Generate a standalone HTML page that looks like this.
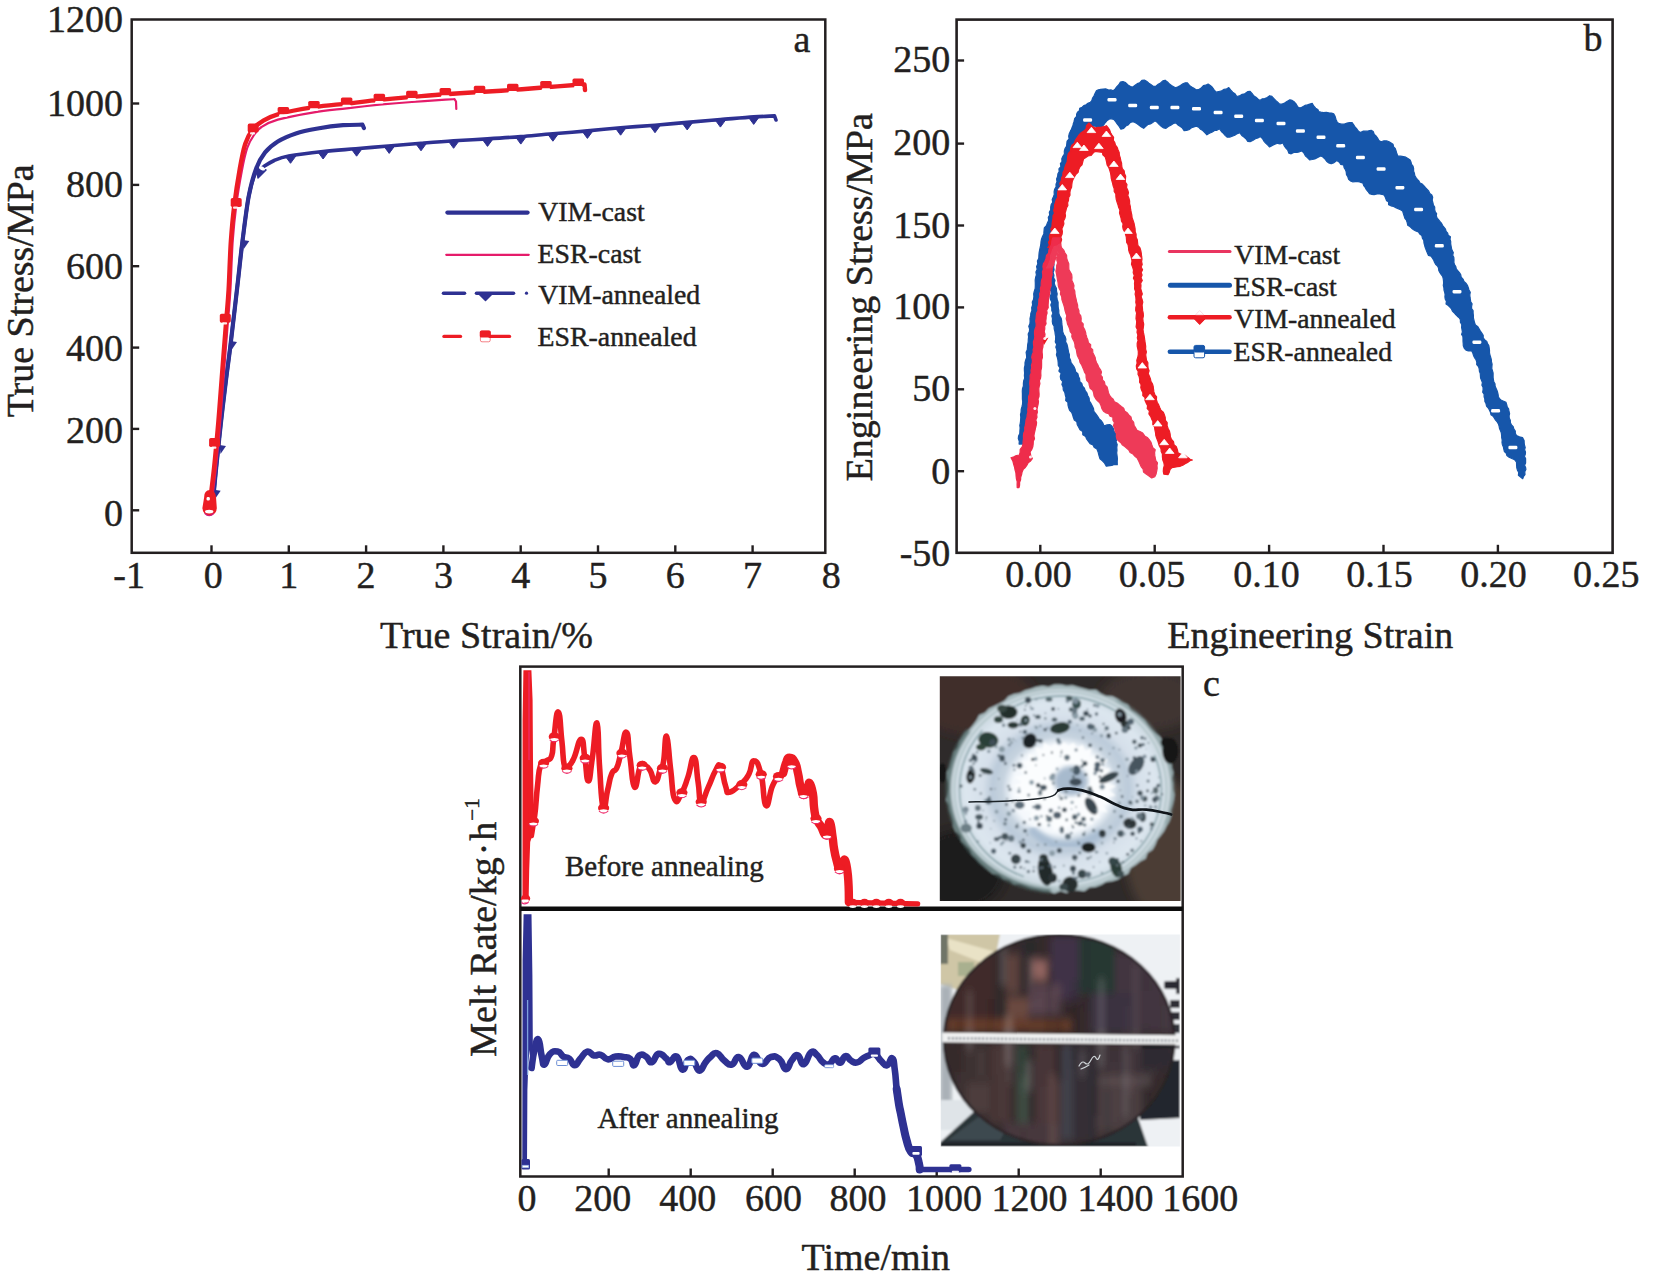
<!DOCTYPE html>
<html><head><meta charset="utf-8"><title>Figure</title>
<style>
html,body{margin:0;padding:0;background:#fff}
svg{display:block}
text{font-family:"Liberation Serif","Times New Roman",serif;fill:#231f20;stroke:#231f20;stroke-width:0.45px}
</style></head><body>
<svg width="1656" height="1278" viewBox="0 0 1656 1278">
<rect width="1656" height="1278" fill="#fff"/>
<rect x="131.7" y="19.5" width="693.5999999999999" height="533.3" fill="none" stroke="#231f20" stroke-width="2.5"/>
<text x="123.0" y="32.4" font-size="38" text-anchor="end" >1200</text>
<line x1="131.7" y1="103.5" x2="139.2" y2="103.5" stroke="#231f20" stroke-width="2.4" />
<text x="123.0" y="115.5" font-size="38" text-anchor="end" >1000</text>
<line x1="131.7" y1="184.9" x2="139.2" y2="184.9" stroke="#231f20" stroke-width="2.4" />
<text x="123.0" y="197.2" font-size="38" text-anchor="end" >800</text>
<line x1="131.7" y1="266.2" x2="139.2" y2="266.2" stroke="#231f20" stroke-width="2.4" />
<text x="123.0" y="279.0" font-size="38" text-anchor="end" >600</text>
<line x1="131.7" y1="347.6" x2="139.2" y2="347.6" stroke="#231f20" stroke-width="2.4" />
<text x="123.0" y="360.5" font-size="38" text-anchor="end" >400</text>
<line x1="131.7" y1="428.9" x2="139.2" y2="428.9" stroke="#231f20" stroke-width="2.4" />
<text x="123.0" y="443.1" font-size="38" text-anchor="end" >200</text>
<line x1="131.7" y1="510.3" x2="139.2" y2="510.3" stroke="#231f20" stroke-width="2.4" />
<text x="123.0" y="525.5" font-size="38" text-anchor="end" >0</text>
<line x1="211.5" y1="552.8" x2="211.5" y2="545.3" stroke="#231f20" stroke-width="2.4" />
<line x1="288.8" y1="552.8" x2="288.8" y2="545.3" stroke="#231f20" stroke-width="2.4" />
<line x1="366.1" y1="552.8" x2="366.1" y2="545.3" stroke="#231f20" stroke-width="2.4" />
<line x1="443.4" y1="552.8" x2="443.4" y2="545.3" stroke="#231f20" stroke-width="2.4" />
<line x1="520.7" y1="552.8" x2="520.7" y2="545.3" stroke="#231f20" stroke-width="2.4" />
<line x1="598.0" y1="552.8" x2="598.0" y2="545.3" stroke="#231f20" stroke-width="2.4" />
<line x1="675.3" y1="552.8" x2="675.3" y2="545.3" stroke="#231f20" stroke-width="2.4" />
<line x1="752.6" y1="552.8" x2="752.6" y2="545.3" stroke="#231f20" stroke-width="2.4" />
<text x="145.0" y="587.8" font-size="38" text-anchor="end" >-1</text>
<text x="213.3" y="587.8" font-size="38" text-anchor="middle" >0</text>
<text x="288.8" y="587.8" font-size="38" text-anchor="middle" >1</text>
<text x="366.1" y="587.8" font-size="38" text-anchor="middle" >2</text>
<text x="443.4" y="587.8" font-size="38" text-anchor="middle" >3</text>
<text x="520.7" y="587.8" font-size="38" text-anchor="middle" >4</text>
<text x="598.0" y="587.8" font-size="38" text-anchor="middle" >5</text>
<text x="675.3" y="587.8" font-size="38" text-anchor="middle" >6</text>
<text x="752.6" y="587.8" font-size="38" text-anchor="middle" >7</text>
<text x="831.3" y="587.8" font-size="38" text-anchor="middle" >8</text>
<text x="486.5" y="647.5" font-size="38" text-anchor="middle" >True Strain/%</text>
<text transform="translate(32.9,290.8) rotate(-90)" font-size="38" text-anchor="middle">True Stress/MPa</text>
<text x="793.5" y="52.0" font-size="38" text-anchor="start" >a</text>
<rect x="956.6" y="19.6" width="655.9999999999999" height="533.1999999999999" fill="none" stroke="#231f20" stroke-width="2.6"/>
<line x1="956.6" y1="60.5" x2="964.1" y2="60.5" stroke="#231f20" stroke-width="2.4" />
<text x="950.3" y="71.7" font-size="38" text-anchor="end" >250</text>
<line x1="956.6" y1="143.6" x2="964.1" y2="143.6" stroke="#231f20" stroke-width="2.4" />
<text x="950.3" y="154.9" font-size="38" text-anchor="end" >200</text>
<line x1="956.6" y1="225.5" x2="964.1" y2="225.5" stroke="#231f20" stroke-width="2.4" />
<text x="950.3" y="237.5" font-size="38" text-anchor="end" >150</text>
<line x1="956.6" y1="307.4" x2="964.1" y2="307.4" stroke="#231f20" stroke-width="2.4" />
<text x="950.3" y="319.4" font-size="38" text-anchor="end" >100</text>
<line x1="956.6" y1="389.3" x2="964.1" y2="389.3" stroke="#231f20" stroke-width="2.4" />
<text x="950.3" y="401.3" font-size="38" text-anchor="end" >50</text>
<line x1="956.6" y1="471.2" x2="964.1" y2="471.2" stroke="#231f20" stroke-width="2.4" />
<text x="950.3" y="483.8" font-size="38" text-anchor="end" >0</text>
<text x="950.3" y="565.6" font-size="38" text-anchor="end" >-50</text>
<line x1="1040.3" y1="552.8" x2="1040.3" y2="544.8" stroke="#231f20" stroke-width="2.4" />
<line x1="1154.7" y1="552.8" x2="1154.7" y2="544.8" stroke="#231f20" stroke-width="2.4" />
<line x1="1269.1" y1="552.8" x2="1269.1" y2="544.8" stroke="#231f20" stroke-width="2.4" />
<line x1="1383.5" y1="552.8" x2="1383.5" y2="544.8" stroke="#231f20" stroke-width="2.4" />
<line x1="1497.9" y1="552.8" x2="1497.9" y2="544.8" stroke="#231f20" stroke-width="2.4" />
<text x="1038.4" y="586.5" font-size="38" text-anchor="middle" >0.00</text>
<text x="1152.0" y="586.5" font-size="38" text-anchor="middle" >0.05</text>
<text x="1266.6" y="586.5" font-size="38" text-anchor="middle" >0.10</text>
<text x="1379.5" y="586.5" font-size="38" text-anchor="middle" >0.15</text>
<text x="1493.4" y="586.5" font-size="38" text-anchor="middle" >0.20</text>
<text x="1606.2" y="586.5" font-size="38" text-anchor="middle" >0.25</text>
<text x="1310.3" y="648.3" font-size="38" text-anchor="middle" >Engineering Strain</text>
<text transform="translate(871.7,297.2) rotate(-90)" font-size="38" text-anchor="middle">Engineering Stress/MPa</text>
<text x="1583.5" y="51.0" font-size="38" text-anchor="start" >b</text>
<rect x="520.3" y="666.6" width="662.4000000000001" height="509.9" fill="none" stroke="#231f20" stroke-width="2.5"/>
<line x1="520.3" y1="908.8" x2="1182.7" y2="908.8" stroke="#0d0d0d" stroke-width="4.6" />
<line x1="608.7" y1="1176.5" x2="608.7" y2="1168.5" stroke="#231f20" stroke-width="2.4" />
<line x1="690.7" y1="1176.5" x2="690.7" y2="1168.5" stroke="#231f20" stroke-width="2.4" />
<line x1="772.7" y1="1176.5" x2="772.7" y2="1168.5" stroke="#231f20" stroke-width="2.4" />
<line x1="854.7" y1="1176.5" x2="854.7" y2="1168.5" stroke="#231f20" stroke-width="2.4" />
<line x1="936.7" y1="1176.5" x2="936.7" y2="1168.5" stroke="#231f20" stroke-width="2.4" />
<line x1="1018.7" y1="1176.5" x2="1018.7" y2="1168.5" stroke="#231f20" stroke-width="2.4" />
<line x1="1100.7" y1="1176.5" x2="1100.7" y2="1168.5" stroke="#231f20" stroke-width="2.4" />
<text x="527.0" y="1210.5" font-size="38" text-anchor="middle" >0</text>
<text x="602.8" y="1210.5" font-size="38" text-anchor="middle" >200</text>
<text x="687.7" y="1210.5" font-size="38" text-anchor="middle" >400</text>
<text x="773.5" y="1210.5" font-size="38" text-anchor="middle" >600</text>
<text x="858.0" y="1210.5" font-size="38" text-anchor="middle" >800</text>
<text x="944.0" y="1210.5" font-size="38" text-anchor="middle" >1000</text>
<text x="1029.6" y="1210.5" font-size="38" text-anchor="middle" >1200</text>
<text x="1115.6" y="1210.5" font-size="38" text-anchor="middle" >1400</text>
<text x="1200.3" y="1210.5" font-size="38" text-anchor="middle" >1600</text>
<text x="875.8" y="1270.0" font-size="38" text-anchor="middle" >Time/min</text>
<text transform="translate(495.7,1056.8) rotate(-90)" font-size="38">Melt Rate/kg<tspan dx="2">·</tspan><tspan dx="2">h</tspan><tspan font-size="21" dy="-16.4" dx="1">−1</tspan></text>
<text x="1203.0" y="696.0" font-size="38" text-anchor="start" >c</text>
<text x="564.9" y="875.6" font-size="29" text-anchor="start" >Before annealing</text>
<text x="597.4" y="1128.0" font-size="29" text-anchor="start" >After annealing</text>
<path d="M211.0,512.0 C211.3,510.0 212.1,507.4 213.0,500.0 C213.9,492.6 214.9,480.3 216.2,467.6 C217.5,454.9 219.2,438.4 220.8,423.8 C222.4,409.2 224.4,393.1 226.0,380.0 C227.6,366.9 228.6,360.8 230.5,345.0 C232.4,329.2 235.5,302.3 237.5,285.0 C239.5,267.7 240.6,255.8 242.5,241.0 C244.4,226.2 246.5,208.0 248.8,195.9 C251.1,183.8 253.4,175.9 256.1,168.7 C258.8,161.4 261.5,156.9 265.1,152.4 C268.7,147.9 272.7,144.7 277.8,141.5 C282.9,138.3 289.2,135.6 295.9,133.4 C302.5,131.2 309.8,129.9 317.7,128.5 C325.6,127.1 335.5,125.8 343.0,125.2 C350.5,124.6 359.2,124.8 362.5,124.7 L363.9,128" fill="none" stroke="#2e3192" stroke-width="4.2" stroke-linecap="round" stroke-linejoin="round" />
<path d="M211.0,512.0 C211.3,510.0 212.1,507.4 213.0,500.0 C213.9,492.6 214.9,480.3 216.2,467.6 C217.5,454.9 219.2,438.4 220.8,423.8 C222.4,409.2 224.4,393.1 226.0,380.0 C227.6,366.9 228.6,360.8 230.5,345.0 C232.4,329.2 235.5,302.3 237.5,285.0 C239.5,267.7 240.6,255.8 242.5,241.0 C244.4,226.2 246.6,207.4 248.8,195.9 C251.1,184.4 253.6,176.8 256.0,172.0 C258.4,167.2 260.3,168.8 263.3,166.9 C266.3,165.0 270.0,162.3 274.2,160.5 C278.4,158.7 280.5,157.5 288.7,156.0 C296.9,154.5 311.9,152.7 323.1,151.5 C334.3,150.3 344.8,149.7 355.7,148.8 C366.6,147.9 377.4,146.9 388.3,146.0 C399.2,145.1 410.1,144.2 421.0,143.3 C431.9,142.4 442.5,141.5 453.6,140.8 C464.7,140.1 476.3,139.6 487.5,138.9 C498.7,138.2 509.9,137.5 520.8,136.6 C531.7,135.7 541.8,134.6 552.9,133.7 C564.0,132.8 576.1,131.9 587.4,130.9 C598.7,129.9 609.3,128.7 620.6,127.7 C631.9,126.8 643.9,126.1 655.0,125.2 C666.1,124.3 676.3,123.3 687.2,122.4 C698.1,121.5 709.3,120.5 720.4,119.6 C731.5,118.7 744.7,117.5 753.7,116.9 C762.7,116.3 771.0,116.1 774.5,115.9 L776,120" fill="none" stroke="#2e3192" stroke-width="3.6" stroke-linecap="round" stroke-linejoin="round" />
<polygon points="285.0,155.8 296.0,155.8 290.5,163.3" fill="#2e3192" stroke="#2e3192" stroke-width="1" stroke-linejoin="round"/>
<polygon points="317.6,151.5 328.6,151.5 323.1,159.0" fill="#2e3192" stroke="#2e3192" stroke-width="1" stroke-linejoin="round"/>
<polygon points="351.1,148.7 362.1,148.7 356.6,156.2" fill="#2e3192" stroke="#2e3192" stroke-width="1" stroke-linejoin="round"/>
<polygon points="383.7,145.9 394.7,145.9 389.2,153.4" fill="#2e3192" stroke="#2e3192" stroke-width="1" stroke-linejoin="round"/>
<polygon points="415.5,143.3 426.5,143.3 421.0,150.8" fill="#2e3192" stroke="#2e3192" stroke-width="1" stroke-linejoin="round"/>
<polygon points="448.1,140.8 459.1,140.8 453.6,148.3" fill="#2e3192" stroke="#2e3192" stroke-width="1" stroke-linejoin="round"/>
<polygon points="482.0,138.9 493.0,138.9 487.5,146.4" fill="#2e3192" stroke="#2e3192" stroke-width="1" stroke-linejoin="round"/>
<polygon points="515.3,136.6 526.3,136.6 520.8,144.1" fill="#2e3192" stroke="#2e3192" stroke-width="1" stroke-linejoin="round"/>
<polygon points="547.4,133.7 558.4,133.7 552.9,141.2" fill="#2e3192" stroke="#2e3192" stroke-width="1" stroke-linejoin="round"/>
<polygon points="581.9,130.9 592.9,130.9 587.4,138.4" fill="#2e3192" stroke="#2e3192" stroke-width="1" stroke-linejoin="round"/>
<polygon points="615.1,127.7 626.1,127.7 620.6,135.2" fill="#2e3192" stroke="#2e3192" stroke-width="1" stroke-linejoin="round"/>
<polygon points="649.5,125.2 660.5,125.2 655.0,132.7" fill="#2e3192" stroke="#2e3192" stroke-width="1" stroke-linejoin="round"/>
<polygon points="681.7,122.4 692.7,122.4 687.2,129.9" fill="#2e3192" stroke="#2e3192" stroke-width="1" stroke-linejoin="round"/>
<polygon points="714.9,119.6 725.9,119.6 720.4,127.1" fill="#2e3192" stroke="#2e3192" stroke-width="1" stroke-linejoin="round"/>
<polygon points="748.2,116.9 759.2,116.9 753.7,124.4" fill="#2e3192" stroke="#2e3192" stroke-width="1" stroke-linejoin="round"/>
<polygon points="230.5,341.0 237.0,342.0 231.5,350.0" fill="#2e3192"/>
<polygon points="219.5,445.0 226.0,446.0 220.5,454.0" fill="#2e3192"/>
<polygon points="214.2,489.7 220.7,490.7 215.2,498.7" fill="#2e3192"/>
<polygon points="242.8,239.9 249.3,240.9 243.8,248.9" fill="#2e3192"/>
<polygon points="256.5,168 266,170 258,178" fill="#2e3192" stroke="#2e3192" stroke-width="1.5" stroke-linejoin="round"/>
<ellipse cx="262" cy="168.3" rx="3.2" ry="1.8" fill="#fff" transform="rotate(25 262 168.3)"/>
<path d="M211.0,508.0 C211.8,501.3 214.4,481.6 215.9,467.6 C217.4,453.6 218.8,438.4 220.0,423.8 C221.2,409.2 222.1,397.2 223.4,380.0 C224.7,362.8 226.8,335.7 228.0,320.7 C229.2,305.7 229.6,303.3 230.4,290.0 C231.2,276.7 231.7,255.2 232.7,241.0 C233.7,226.8 234.8,216.7 236.3,205.0 C237.8,193.3 240.0,180.5 241.8,171.0 C243.6,161.5 245.2,154.0 247.2,148.0 C249.2,142.0 251.6,138.5 254.0,135.0 C256.4,131.5 257.5,129.6 261.5,127.0 C265.5,124.4 269.1,122.0 277.8,119.6 C286.6,117.1 302.5,114.2 314.0,112.3 C325.5,110.4 335.8,109.6 346.7,108.3 C357.6,107.0 368.4,105.8 379.3,104.7 C390.2,103.7 400.9,102.8 411.9,102.0 C422.9,101.2 438.3,100.1 445.4,99.6 C452.5,99.1 453.0,99.3 454.5,99.2 L456,101.5 L456.3,109" fill="none" stroke="#e51b6a" stroke-width="2.2" stroke-linecap="round" stroke-linejoin="round" />
<path d="M209.3,508.0 C210.1,501.3 212.6,481.6 214.1,467.6 C215.6,453.6 216.9,438.4 218.2,423.8 C219.4,409.2 220.3,397.2 221.6,380.0 C222.9,362.8 225.0,335.7 226.2,320.7 C227.4,305.7 227.8,303.3 228.6,290.0 C229.4,276.7 229.9,255.2 230.9,241.0 C231.9,226.8 232.8,217.1 234.3,205.0 C235.8,192.9 238.0,178.9 239.8,168.7 C241.6,158.5 243.1,150.5 245.2,144.0 C247.3,137.5 249.8,133.2 252.5,129.5 C255.2,125.8 257.3,124.3 261.5,121.8 C265.7,119.3 269.1,116.7 277.8,114.3 C286.6,111.9 302.5,109.0 314.0,107.2 C325.5,105.4 335.8,104.8 346.7,103.6 C357.6,102.4 368.4,101.0 379.3,99.9 C390.2,98.8 400.9,97.9 411.9,96.9 C422.9,96.0 434.1,95.0 445.4,94.2 C456.7,93.4 468.3,92.7 479.5,92.0 C490.7,91.3 501.7,90.7 512.8,89.9 C523.9,89.1 535.1,88.1 546.0,87.2 C556.9,86.3 571.8,85.3 578.2,84.8 C584.6,84.3 583.5,84.5 584.5,84.4 L585,90" fill="none" stroke="#ed1c24" stroke-width="4.4" stroke-linecap="round" stroke-linejoin="round" />
<rect x="277.6" y="107.1" width="11.5" height="5.6" rx="1.6" fill="#ed1c24"/>
<rect x="279.1" y="114.3" width="8.5" height="2.4" rx="1.2" fill="#fff"/>
<rect x="308.2" y="101.0" width="11.5" height="5.6" rx="1.6" fill="#ed1c24"/>
<rect x="309.8" y="108.3" width="8.5" height="2.4" rx="1.2" fill="#fff"/>
<rect x="340.9" y="97.4" width="11.5" height="5.6" rx="1.6" fill="#ed1c24"/>
<rect x="342.4" y="104.7" width="8.5" height="2.4" rx="1.2" fill="#fff"/>
<rect x="373.6" y="93.8" width="11.5" height="5.6" rx="1.6" fill="#ed1c24"/>
<rect x="375.1" y="101.0" width="8.5" height="2.4" rx="1.2" fill="#fff"/>
<rect x="406.1" y="90.8" width="11.5" height="5.6" rx="1.6" fill="#ed1c24"/>
<rect x="407.6" y="98.0" width="8.5" height="2.4" rx="1.2" fill="#fff"/>
<rect x="439.6" y="88.0" width="11.5" height="5.6" rx="1.6" fill="#ed1c24"/>
<rect x="441.1" y="95.3" width="8.5" height="2.4" rx="1.2" fill="#fff"/>
<rect x="473.8" y="85.8" width="11.5" height="5.6" rx="1.6" fill="#ed1c24"/>
<rect x="475.2" y="93.1" width="8.5" height="2.4" rx="1.2" fill="#fff"/>
<rect x="507.0" y="83.8" width="11.5" height="5.6" rx="1.6" fill="#ed1c24"/>
<rect x="508.5" y="91.0" width="8.5" height="2.4" rx="1.2" fill="#fff"/>
<rect x="540.2" y="81.0" width="11.5" height="5.6" rx="1.6" fill="#ed1c24"/>
<rect x="541.8" y="88.3" width="8.5" height="2.4" rx="1.2" fill="#fff"/>
<rect x="572.5" y="78.6" width="11.5" height="5.6" rx="1.6" fill="#ed1c24"/>
<rect x="574.0" y="85.9" width="8.5" height="2.4" rx="1.2" fill="#fff"/>
<rect x="219.8" y="313.7" width="11" height="9" rx="1.8" fill="#ed1c24"/>
<rect x="222.1" y="322.3" width="5" height="2.2" rx="1" fill="#fff" opacity="0.9"/>
<rect x="209.1" y="438.0" width="11" height="9" rx="1.8" fill="#ed1c24"/>
<rect x="211.4" y="446.6" width="5" height="2.2" rx="1" fill="#fff" opacity="0.9"/>
<rect x="230.7" y="198.0" width="11" height="9" rx="1.8" fill="#ed1c24"/>
<rect x="233.0" y="206.6" width="5" height="2.2" rx="1" fill="#fff" opacity="0.9"/>
<rect x="247.7" y="123.6" width="11" height="9" rx="1.8" fill="#ed1c24"/>
<rect x="250.0" y="132.2" width="5" height="2.2" rx="1" fill="#fff" opacity="0.9"/>
<path d="M204.2,497 Q204,490.5 209.8,490 Q215.6,490.5 216,497 L216.8,508 Q216.6,514.8 209.6,515.8 Q202.8,514.8 202.4,508 Z" fill="#ed1c24"/>
<rect x="206.6" y="497" width="3.2" height="3.4" rx="1.2" fill="#fff"/>
<ellipse cx="209.2" cy="511.6" rx="4.2" ry="1.9" fill="#fff"/>
<path d="M204.6,513.2 Q209.2,518 213.8,513.2" fill="none" stroke="#d21d7a" stroke-width="1.3"/>
<line x1="447.4" y1="212.6" x2="527.6" y2="212.6" stroke="#2e3192" stroke-width="4.2" stroke-linecap="round"/>
<line x1="446.3" y1="254.8" x2="528.7" y2="254.8" stroke="#e51b6a" stroke-width="2.3" stroke-linecap="round"/>
<line x1="443.5" y1="293.2" x2="464.5" y2="293.2" stroke="#2e3192" stroke-width="3.6" stroke-linecap="round"/>
<line x1="476.5" y1="293.2" x2="513.5" y2="293.2" stroke="#2e3192" stroke-width="3.6" stroke-linecap="round"/>
<circle cx="526.5" cy="293.2" r="1.6" fill="#2e3192"/>
<polygon points="478.5,293.5 492.5,293.5 485.5,300.5" fill="#2e3192" stroke="#2e3192" stroke-width="1.5" stroke-linejoin="round"/>
<line x1="444.0" y1="336.4" x2="460.5" y2="336.4" stroke="#ed1c24" stroke-width="3.4" stroke-linecap="round"/>
<line x1="490.0" y1="336.4" x2="509.5" y2="336.4" stroke="#ed1c24" stroke-width="3.4" stroke-linecap="round"/>
<rect x="479.8" y="330.4" width="11" height="7.2" rx="1.6" fill="#ed1c24"/>
<rect x="480.4" y="331" width="9.8" height="10.8" rx="1.6" fill="none" stroke="#ed1c24" stroke-width="1" opacity="0.55"/>
<text x="538.2" y="220.8" font-size="27.8" text-anchor="start" >VIM-cast</text>
<text x="537.6" y="263.3" font-size="27.8" text-anchor="start" >ESR-cast</text>
<text x="538.2" y="304.1" font-size="27.8" text-anchor="start" >VIM-annealed</text>
<text x="537.6" y="345.8" font-size="27.8" text-anchor="start" >ESR-annealed</text>
<polygon points="1019.1,444.1 1019.3,441.4 1018.3,438.6 1018.6,435.9 1019.8,433.4 1019.9,430.7 1020.1,428.0 1019.8,425.3 1020.4,422.7 1020.6,420.0 1020.8,417.3 1020.5,414.7 1021.1,412.1 1021.2,409.5 1021.9,406.9 1022.5,404.3 1022.7,401.7 1022.4,399.1 1022.4,396.5 1022.4,393.8 1022.3,391.2 1022.5,388.6 1023.4,386.0 1023.4,383.4 1023.7,380.8 1024.7,378.3 1024.4,375.6 1024.6,373.0 1024.4,370.4 1024.4,367.8 1025.0,365.2 1025.0,362.6 1025.7,360.0 1026.7,357.5 1026.5,354.9 1026.1,352.2 1027.3,349.7 1027.5,347.1 1027.7,344.5 1028.2,341.9 1028.3,339.3 1028.6,336.8 1028.2,334.1 1029.4,331.6 1029.6,329.0 1028.8,326.3 1029.9,323.8 1030.1,321.2 1030.0,318.6 1030.6,315.9 1030.9,313.1 1031.9,310.5 1031.7,307.6 1032.6,305.0 1032.3,302.1 1033.5,299.5 1033.9,296.7 1033.7,293.9 1034.3,291.2 1035.2,288.5 1035.3,285.7 1035.3,283.0 1035.2,280.2 1035.6,277.5 1036.4,274.8 1035.9,272.0 1037.2,269.3 1036.6,266.5 1037.8,263.9 1037.4,261.0 1038.8,258.4 1038.9,255.6 1039.1,252.9 1039.6,250.1 1040.2,247.4 1040.8,244.7 1041.0,241.9 1041.5,239.1 1042.5,236.5 1043.8,233.9 1044.0,231.1 1044.3,228.0 1046.4,225.7 1047.4,222.9 1048.7,220.2 1048.3,217.4 1049.7,215.0 1049.3,212.2 1050.7,209.8 1050.7,207.2 1051.2,204.6 1052.7,202.2 1052.2,199.4 1053.3,197.0 1054.3,194.6 1054.1,191.8 1054.6,189.3 1056.1,186.9 1056.0,184.2 1057.0,181.7 1056.6,179.0 1057.6,176.5 1057.9,173.9 1059.2,171.5 1058.9,168.8 1060.9,166.6 1060.4,163.7 1062.0,161.5 1061.8,158.7 1062.9,156.3 1064.4,154.0 1064.3,151.2 1065.0,148.7 1066.5,146.4 1066.8,143.8 1067.1,141.1 1069.1,139.0 1068.7,136.2 1069.3,133.6 1070.5,131.2 1071.9,128.8 1073.1,126.4 1073.3,123.5 1074.7,121.1 1075.3,118.4 1076.9,116.1 1078.4,113.7 1079.4,111.2 1080.6,108.7 1092.2,128.2 1090.2,129.9 1088.7,132.1 1087.4,134.4 1085.9,136.5 1085.0,139.0 1083.6,141.2 1082.5,143.6 1080.4,145.4 1079.5,147.8 1078.2,150.1 1077.2,152.7 1076.1,155.3 1075.3,158.0 1074.6,160.7 1074.7,163.7 1073.0,166.1 1071.9,168.7 1071.7,171.4 1070.9,173.9 1071.4,176.7 1070.8,179.2 1070.2,181.8 1069.3,184.3 1068.2,186.7 1068.0,189.4 1067.6,191.9 1066.8,194.4 1066.7,197.1 1065.4,199.5 1065.7,202.2 1064.0,204.5 1064.2,207.3 1063.8,209.8 1063.5,212.5 1062.2,214.9 1062.2,217.5 1061.2,220.0 1060.2,222.8 1059.1,225.5 1058.5,228.5 1056.6,230.9 1055.7,233.6 1055.8,236.5 1055.4,239.3 1054.0,241.9 1054.3,244.8 1053.2,247.4 1051.9,250.0 1052.4,252.9 1051.4,255.6 1050.6,258.2 1050.6,261.1 1050.4,263.8 1049.5,266.5 1050.2,269.3 1049.8,272.1 1049.1,274.7 1048.9,277.5 1049.2,280.3 1048.2,283.0 1048.0,285.7 1047.7,288.5 1046.9,291.1 1046.1,293.8 1045.8,296.6 1046.4,299.5 1045.4,302.1 1045.4,304.9 1044.8,307.6 1044.3,310.4 1044.3,313.2 1043.9,315.9 1043.5,318.7 1043.4,321.2 1042.9,323.8 1042.0,326.3 1042.5,329.0 1041.9,331.6 1042.1,334.2 1041.9,336.8 1040.9,339.3 1040.7,341.9 1040.7,344.5 1039.8,347.0 1039.4,349.6 1039.4,352.2 1039.1,354.8 1039.3,357.4 1038.8,360.0 1038.8,362.6 1037.6,365.1 1037.4,367.8 1037.1,370.4 1037.6,373.0 1037.1,375.6 1037.7,378.3 1037.4,380.9 1037.3,383.5 1037.0,386.1 1036.7,388.7 1035.9,391.2 1036.4,393.9 1035.6,396.5 1035.1,399.1 1035.4,401.7 1034.2,404.2 1035.1,406.9 1034.4,409.5 1034.3,412.1 1033.8,414.7 1034.2,417.3 1033.0,419.9 1033.3,422.6 1033.6,425.4 1033.1,428.0 1032.4,430.6 1032.8,433.4 1032.2,436.0 1031.7,438.6 1031.2,441.3 1031.1,444.0" fill="#1656aa" stroke="#1656aa" stroke-width="1.2" stroke-linejoin="round" />
<polygon points="1070.4,131.2 1071.6,129.3 1072.2,127.1 1073.4,125.1 1074.2,123.0 1074.2,120.6 1074.8,118.5 1076.6,116.8 1076.6,114.3 1077.5,112.3 1079.4,110.6 1079.7,108.2 1082.1,107.2 1083.8,105.6 1086.1,104.7 1087.9,103.3 1090.3,102.3 1091.8,100.6 1092.6,98.0 1093.9,96.1 1094.9,93.8 1096.3,90.9 1098.4,89.8 1100.7,89.3 1103.2,89.1 1105.6,88.9 1108.7,90.1 1110.9,89.9 1113.3,90.7 1115.2,88.8 1116.9,86.6 1118.8,84.8 1120.4,82.0 1122.9,81.6 1125.6,82.6 1128.0,84.9 1130.5,86.5 1132.8,87.0 1135.1,85.3 1137.3,83.6 1139.6,82.8 1141.9,80.3 1144.3,80.0 1146.6,81.2 1148.9,83.2 1151.2,84.8 1153.5,86.4 1155.9,86.1 1158.2,84.3 1160.5,83.0 1162.8,80.9 1165.1,80.2 1167.5,81.9 1169.5,84.1 1171.5,85.5 1173.6,86.7 1175.6,87.8 1178.0,86.8 1180.4,85.5 1182.9,83.8 1185.3,82.8 1187.4,82.8 1189.5,85.4 1191.7,86.9 1193.9,88.3 1196.1,89.8 1198.4,89.7 1200.8,88.4 1203.4,85.7 1205.7,85.2 1208.1,84.0 1210.3,85.4 1212.5,87.5 1214.3,90.1 1216.2,92.2 1218.7,91.5 1221.0,91.2 1223.8,89.4 1226.1,89.2 1228.8,87.6 1230.6,89.9 1232.7,92.2 1234.9,93.7 1236.8,96.5 1239.4,95.9 1242.2,94.3 1244.7,93.8 1247.6,91.7 1250.1,91.3 1252.2,93.7 1254.0,96.0 1256.0,97.3 1257.9,99.0 1259.8,100.5 1262.4,98.8 1264.7,98.6 1267.2,97.5 1269.7,95.7 1271.9,96.4 1273.7,98.3 1275.7,100.4 1277.7,102.3 1279.7,104.2 1282.1,104.0 1284.6,103.1 1287.3,101.2 1289.9,99.8 1292.1,100.4 1294.2,101.8 1296.1,104.0 1297.9,107.0 1299.9,108.1 1302.3,107.1 1305.0,105.4 1307.4,104.9 1309.8,104.1 1312.2,103.4 1313.9,106.2 1315.7,108.2 1317.7,109.4 1318.9,111.7 1320.8,112.2 1323.4,112.6 1326.3,112.3 1328.8,112.8 1331.5,113.0 1333.7,113.9 1335.1,116.3 1336.0,119.4 1337.2,122.1 1339.0,123.6 1341.7,124.2 1344.4,124.0 1347.1,123.1 1349.7,122.5 1352.1,122.5 1353.7,124.8 1355.2,127.2 1356.9,129.0 1358.5,131.3 1360.4,132.5 1363.4,131.0 1365.7,131.2 1368.3,130.9 1371.2,130.3 1373.2,131.5 1374.3,134.5 1376.1,136.0 1377.6,138.1 1378.9,140.6 1381.0,141.8 1384.0,140.8 1386.6,140.9 1389.1,141.7 1391.1,142.9 1393.0,144.2 1393.6,146.9 1395.2,148.5 1396.1,151.0 1396.8,153.6 1397.8,156.0 1400.6,156.2 1403.3,156.6 1405.8,157.2 1407.9,158.5 1410.1,160.0 1411.0,162.1 1411.6,164.3 1413.0,166.1 1413.6,168.4 1413.6,171.1 1414.4,173.2 1414.8,175.6 1416.0,177.5 1417.3,179.3 1418.9,181.0 1420.0,183.0 1422.3,184.1 1424.0,185.8 1425.5,187.6 1427.2,189.4 1428.8,191.2 1429.8,193.4 1431.8,195.0 1432.7,197.2 1432.2,200.2 1432.9,202.6 1433.4,205.0 1434.7,207.0 1434.7,209.7 1435.3,211.9 1436.6,213.6 1436.3,216.0 1437.2,218.0 1438.7,219.9 1440.1,221.7 1441.6,223.5 1442.7,225.5 1444.1,227.3 1445.5,229.2 1446.1,231.3 1447.7,233.1 1448.2,235.3 1450.4,236.8 1450.0,239.3 1450.7,241.4 1450.7,243.8 1451.1,246.0 1451.5,248.4 1452.2,250.6 1453.3,252.6 1452.7,255.3 1453.8,257.4 1454.0,259.8 1453.9,262.3 1454.5,264.6 1455.8,266.6 1456.3,268.9 1457.9,270.8 1459.4,272.7 1460.7,274.7 1461.2,277.2 1463.0,279.1 1464.0,281.4 1465.9,283.2 1467.4,285.3 1468.3,287.6 1469.0,290.0 1470.3,292.2 1469.8,294.8 1470.0,297.2 1470.4,299.5 1470.7,301.8 1472.1,303.8 1471.6,306.3 1471.6,308.7 1473.1,310.7 1473.1,313.1 1473.4,315.4 1473.4,317.9 1474.0,320.4 1474.6,322.8 1475.5,325.1 1477.9,326.8 1479.2,329.0 1480.4,331.1 1481.8,333.2 1483.2,335.3 1483.2,337.8 1484.6,339.7 1486.8,341.4 1487.5,343.6 1488.8,345.6 1489.2,347.9 1489.5,350.3 1489.5,352.8 1490.0,355.1 1490.7,357.3 1491.3,359.5 1491.5,361.9 1492.1,364.2 1491.9,366.6 1491.8,368.7 1492.5,370.8 1493.1,372.9 1493.1,375.2 1493.1,377.4 1493.4,379.6 1493.8,381.8 1495.0,383.8 1495.1,386.1 1496.0,388.2 1496.9,390.2 1497.6,392.3 1498.1,394.5 1498.4,396.7 1499.5,398.8 1501.3,400.3 1503.7,401.3 1506.0,402.4 1506.7,404.7 1507.3,407.1 1508.6,408.9 1509.0,411.5 1509.6,413.6 1509.1,415.8 1509.3,418.2 1510.3,420.3 1510.4,422.7 1511.5,424.8 1513.2,426.7 1513.8,428.9 1515.3,431.0 1515.3,433.4 1516.5,435.6 1519.4,436.8 1522.5,437.6 1524.1,440.5 1524.2,443.1 1524.5,445.3 1525.2,447.5 1524.6,449.8 1525.5,451.9 1525.3,454.2 1524.5,456.4 1525.6,458.6 1525.6,460.8 1525.6,463.0 1524.6,465.3 1525.6,467.4 1525.9,469.6 1524.8,471.8 1525.0,474.7 1523.6,476.4 1522.7,478.7 1518.4,475.3 1518.7,472.4 1517.5,470.3 1516.8,467.9 1516.6,465.3 1516.5,462.1 1514.6,459.6 1511.8,458.5 1509.1,457.3 1506.9,455.6 1506.3,453.4 1504.4,451.5 1503.8,449.2 1503.4,446.9 1502.4,444.7 1502.0,442.5 1502.2,440.0 1501.7,437.7 1501.6,435.3 1501.3,432.9 1500.5,430.7 1499.5,428.5 1499.1,426.2 1498.4,423.9 1497.2,421.9 1495.6,420.1 1494.4,418.1 1493.1,416.2 1491.0,414.8 1490.5,412.4 1489.5,410.2 1488.3,408.0 1486.5,406.0 1486.0,403.6 1484.9,401.4 1484.8,398.9 1484.1,396.7 1484.1,394.2 1482.7,392.2 1483.1,389.6 1483.0,387.2 1481.9,385.1 1482.4,382.5 1481.5,380.3 1480.6,378.1 1480.4,375.7 1480.3,373.4 1479.4,371.3 1479.2,368.8 1478.5,366.5 1476.7,364.5 1476.8,362.0 1476.0,359.7 1474.5,357.6 1473.5,355.4 1472.8,353.1 1471.6,350.7 1468.4,350.9 1466.0,350.1 1464.3,348.4 1463.3,345.7 1463.2,343.4 1463.0,341.1 1463.0,338.8 1462.9,336.5 1461.6,334.4 1462.4,331.9 1462.0,329.6 1461.6,327.3 1461.8,324.6 1460.4,322.3 1460.4,319.8 1459.2,317.8 1457.3,316.2 1455.7,314.5 1454.1,312.7 1452.4,311.1 1451.5,308.9 1449.9,307.2 1448.3,305.5 1446.0,304.1 1446.4,301.3 1445.3,299.3 1444.9,297.0 1445.1,294.5 1444.7,292.3 1444.0,290.1 1443.9,287.8 1443.3,285.6 1443.6,283.1 1443.5,280.8 1443.2,278.5 1442.6,276.3 1441.1,274.4 1439.8,272.4 1438.8,270.4 1438.5,268.1 1437.5,266.0 1435.6,264.2 1434.5,262.2 1433.7,260.1 1432.5,258.2 1431.2,256.3 1428.5,255.4 1427.4,253.1 1426.4,250.6 1425.5,248.2 1424.7,245.7 1424.0,243.2 1423.8,240.4 1422.4,238.1 1421.8,235.4 1419.7,234.0 1418.5,231.9 1415.8,231.0 1413.6,229.7 1411.6,228.2 1409.9,226.5 1407.7,225.2 1407.2,222.6 1406.4,220.2 1404.9,218.4 1404.1,215.9 1403.3,213.4 1402.6,210.9 1400.5,209.7 1398.1,208.7 1395.8,207.6 1393.6,206.5 1390.9,205.8 1388.6,204.8 1388.5,201.8 1386.6,200.7 1385.5,197.7 1384.2,195.1 1382.0,194.3 1379.7,193.9 1377.1,194.0 1374.1,194.6 1371.8,194.3 1369.5,193.7 1368.0,191.5 1366.4,189.7 1365.2,187.4 1363.7,185.6 1362.8,182.9 1360.5,182.3 1358.2,181.6 1355.4,181.6 1352.5,181.8 1350.4,180.9 1348.6,179.3 1347.8,176.7 1346.5,174.7 1346.2,171.9 1345.4,169.6 1344.1,167.6 1343.6,164.9 1340.6,164.3 1339.4,162.3 1336.8,160.6 1333.5,163.0 1331.1,163.8 1328.8,163.0 1326.6,161.2 1324.5,158.5 1322.6,156.8 1320.6,155.9 1317.7,157.4 1314.8,158.9 1312.2,159.5 1309.6,159.9 1307.6,157.8 1305.6,156.1 1303.9,153.0 1301.9,150.9 1299.4,151.8 1296.8,152.5 1294.3,152.3 1291.2,153.8 1288.9,153.2 1287.7,150.1 1285.9,148.2 1284.3,146.0 1283.0,143.0 1280.1,143.9 1277.6,143.3 1274.9,144.2 1272.3,145.4 1269.6,147.0 1267.8,145.1 1265.9,143.3 1264.0,141.3 1262.4,138.5 1260.5,136.5 1257.9,137.9 1255.4,138.8 1252.7,140.5 1250.1,141.7 1247.8,141.4 1245.9,138.7 1243.9,137.0 1241.8,135.4 1239.9,132.8 1237.4,133.6 1234.8,135.2 1232.2,136.3 1229.7,137.1 1227.3,137.2 1225.3,135.6 1223.4,133.4 1221.4,131.5 1219.6,128.8 1216.9,130.3 1214.6,130.5 1211.9,132.2 1209.4,133.2 1206.9,134.8 1204.8,132.6 1202.8,130.6 1200.6,129.3 1198.6,127.1 1196.4,126.1 1193.9,126.9 1191.5,127.8 1188.9,129.7 1186.4,130.5 1184.1,130.6 1182.1,127.7 1180.0,126.2 1177.9,124.9 1175.8,122.8 1173.4,123.4 1170.8,125.2 1168.3,126.5 1166.0,128.3 1163.7,128.0 1161.5,126.5 1159.3,124.6 1157.2,122.3 1155.0,120.7 1152.7,122.4 1150.4,123.9 1148.1,124.4 1145.8,126.4 1143.7,128.3 1141.4,126.9 1139.1,125.2 1136.8,123.6 1134.5,122.2 1132.3,121.7 1130.1,122.7 1128.0,125.0 1125.8,126.0 1123.7,128.4 1120.9,129.2 1119.0,126.1 1117.2,123.9 1115.5,121.5 1113.8,119.3 1110.3,118.6 1107.2,120.4 1105.4,122.5 1103.7,124.9 1101.8,126.9 1099.6,127.7 1096.8,126.4 1094.3,126.1 1091.8,125.9 1088.7,126.4 1085.9,128.4 1084.9,130.4 1085.0,133.1 1083.7,134.9 1083.3,137.3 1082.3,139.4 1082.5,142.1 1080.7,143.7 1080.1,146.0 1078.8,147.8 1077.9,150.0" fill="#1656aa" stroke="#1656aa" stroke-width="1.2" stroke-linejoin="round"/>
<polygon points="1041.2,250.1 1042.1,247.3 1042.9,244.5 1043.8,241.7 1044.1,238.8 1045.1,236.0 1044.8,232.2 1045.2,235.6 1044.6,238.3 1045.3,240.9 1045.0,243.6 1046.6,246.1 1046.1,248.8 1046.7,251.4 1046.4,254.1 1046.5,256.7 1047.7,259.3 1047.5,261.9 1047.7,264.6 1047.0,267.3 1047.6,269.9 1049.0,272.4 1048.2,275.2 1049.7,277.7 1049.2,280.4 1050.5,282.9 1050.9,285.7 1049.6,288.5 1051.0,291.2 1051.2,293.9 1050.1,296.8 1050.5,299.5 1051.8,302.1 1050.8,305.0 1051.8,307.7 1051.8,310.4 1052.9,313.1 1051.8,315.9 1052.5,318.6 1052.3,321.3 1052.7,323.9 1054.1,326.3 1054.2,328.9 1054.9,331.5 1055.2,334.1 1055.7,336.6 1055.6,339.3 1055.3,341.9 1056.7,344.4 1055.8,347.1 1056.7,349.6 1057.0,352.2 1056.4,354.9 1057.3,357.4 1057.9,359.9 1058.2,362.7 1058.3,365.5 1060.0,368.0 1058.9,371.0 1061.1,373.4 1060.3,376.4 1060.7,379.1 1062.7,381.6 1061.9,384.5 1063.1,387.1 1063.3,389.9 1064.8,392.4 1065.3,395.1 1066.0,397.5 1065.7,400.5 1067.9,402.4 1068.0,405.2 1068.7,407.8 1069.6,410.3 1071.6,412.3 1072.6,414.8 1073.3,417.3 1074.3,420.0 1076.8,421.8 1077.3,424.8 1078.7,427.3 1080.0,429.8 1082.7,431.5 1082.8,434.7 1085.6,436.4 1086.6,439.0 1088.4,441.3 1090.1,443.7 1093.0,444.9 1094.4,447.6 1096.9,449.0 1098.2,452.3 1099.0,455.6 1100.0,458.7 1102.4,460.8 1104.6,463.2 1106.3,466.2 1111.8,465.4 1114.2,464.4 1117.3,464.6 1117.2,461.6 1117.4,458.7 1117.1,455.9 1116.7,453.0 1117.0,450.2 1116.8,447.4 1117.2,444.5 1116.0,441.7 1117.0,438.8 1116.9,435.9 1115.5,433.4 1113.9,431.2 1113.3,428.4 1111.8,426.1 1109.8,424.6 1107.0,424.9 1104.0,426.0 1102.9,423.1 1101.2,420.7 1099.0,418.6 1097.5,416.0 1095.7,413.7 1093.9,411.5 1093.5,408.5 1092.3,406.0 1091.0,403.4 1089.4,401.0 1089.1,398.0 1087.7,395.5 1086.9,392.8 1085.2,390.7 1084.4,388.1 1082.5,386.1 1081.8,383.5 1079.8,381.6 1079.6,378.8 1078.5,376.4 1077.9,373.8 1075.7,371.9 1075.1,369.3 1074.1,366.9 1072.5,364.7 1071.0,362.5 1070.5,359.9 1069.3,357.5 1069.4,354.7 1068.6,352.2 1068.1,349.6 1067.6,346.9 1067.0,344.4 1065.6,341.9 1065.9,339.1 1065.1,336.6 1063.6,334.2 1062.7,331.7 1062.5,329.0 1062.2,326.4 1061.8,323.7 1061.7,321.0 1061.2,318.4 1059.6,315.9 1058.8,313.2 1058.8,310.4 1058.2,307.7 1058.1,304.9 1058.1,302.1 1057.2,299.4 1056.7,296.7 1057.2,293.8 1056.5,291.1 1056.4,288.3 1055.0,285.8 1054.2,283.0 1055.0,280.3 1053.6,277.8 1053.9,275.1 1053.1,272.6 1054.1,269.8 1053.6,267.2 1054.0,264.6 1053.4,262.0 1052.0,259.4 1053.0,256.7 1052.0,254.1 1050.9,251.6 1052.2,248.7 1050.3,246.3 1050.6,243.6 1050.4,240.9 1050.7,238.2 1050.0,235.6 1049.7,233.4 1049.6,235.8 1049.3,238.7 1048.4,241.5 1050.0,244.4 1049.7,247.2 1048.1,250.0" fill="#1656aa" stroke="#1656aa" stroke-width="1.2" stroke-linejoin="round" />
<polygon points="1047.8,247.6 1049.4,245.2 1048.5,242.3 1049.8,239.8 1049.3,237.0 1050.0,234.4 1051.6,231.9 1050.8,229.1 1052.0,226.6 1052.1,223.9 1052.5,221.2 1053.0,218.6 1053.0,215.9 1054.5,213.4 1053.7,210.5 1054.4,207.9 1054.5,205.2 1055.3,202.6 1056.2,199.9 1057.7,197.4 1057.6,194.4 1057.8,191.6 1058.7,188.9 1060.6,186.5 1059.8,183.4 1061.3,180.9 1061.6,178.0 1062.8,175.4 1063.0,172.5 1064.3,170.0 1064.9,167.2 1065.9,164.5 1067.1,161.9 1067.5,159.1 1067.7,156.2 1068.4,153.4 1070.5,151.1 1070.7,148.2 1071.8,145.3 1074.3,143.3 1075.3,140.4 1077.0,137.9 1078.6,135.5 1080.9,132.9 1083.7,131.1 1086.0,129.0 1086.5,125.7 1089.0,122.9 1091.9,126.0 1095.1,127.9 1098.0,127.4 1100.9,127.4 1103.7,126.7 1106.4,125.7 1108.2,127.8 1109.7,130.1 1110.6,132.8 1112.0,135.1 1113.6,137.4 1113.3,140.3 1114.8,142.6 1115.5,145.2 1117.2,147.4 1118.1,150.0 1119.2,152.5 1119.4,155.3 1120.3,157.9 1120.8,160.6 1121.6,163.2 1121.7,166.0 1122.3,168.7 1124.2,171.0 1124.6,173.7 1125.7,176.3 1125.4,179.2 1125.3,182.0 1127.0,184.5 1126.5,187.4 1127.7,190.0 1128.5,192.6 1127.8,195.6 1128.9,198.2 1129.6,200.9 1129.6,203.7 1130.3,206.3 1130.6,209.2 1131.1,212.0 1131.8,214.8 1132.1,217.7 1133.1,220.4 1134.0,223.1 1134.6,226.0 1135.1,228.8 1135.2,231.6 1136.1,234.3 1136.1,237.2 1137.3,239.8 1137.6,242.7 1137.9,245.5 1140.0,247.9 1140.8,250.6 1141.3,253.4 1141.6,256.2 1142.0,259.0 1141.6,261.7 1142.2,264.4 1141.1,267.0 1142.6,269.7 1141.2,272.4 1142.1,275.1 1141.0,277.7 1142.3,280.5 1140.7,283.1 1141.0,285.8 1140.7,288.6 1141.5,291.3 1142.3,294.0 1141.1,296.8 1142.1,299.5 1142.8,302.2 1142.1,305.0 1142.4,307.7 1142.6,310.4 1143.2,313.1 1143.4,315.9 1142.8,318.7 1143.1,321.4 1143.7,324.1 1143.4,326.9 1143.0,329.6 1143.4,332.4 1144.0,335.2 1144.5,338.0 1144.8,340.7 1145.3,343.5 1145.7,346.3 1145.6,349.1 1146.4,351.9 1145.7,354.8 1146.1,357.5 1146.5,360.3 1147.9,362.8 1147.8,365.5 1148.1,368.1 1149.1,370.7 1148.2,373.6 1149.3,376.1 1150.4,378.7 1150.9,381.4 1152.4,383.8 1153.2,386.4 1153.5,389.2 1153.9,391.9 1154.8,394.5 1156.6,396.8 1156.4,399.8 1157.3,402.5 1158.7,404.9 1159.7,407.5 1160.9,410.1 1163.2,412.1 1164.3,414.6 1165.2,417.3 1165.4,420.3 1167.2,422.7 1167.1,425.7 1168.1,428.4 1169.4,431.0 1170.1,433.8 1170.4,436.7 1171.5,439.4 1173.5,441.7 1174.0,444.7 1176.3,446.8 1177.4,449.6 1178.0,452.8 1180.6,454.1 1183.4,454.6 1185.8,455.9 1187.9,457.6 1190.1,459.2 1192.4,460.0 1189.9,460.8 1187.6,462.4 1185.1,463.7 1182.8,465.3 1180.2,466.3 1177.4,466.7 1174.7,467.2 1171.9,467.7 1170.0,469.6 1169.3,472.2 1168.1,474.6 1163.8,474.2 1163.3,471.3 1163.5,468.4 1164.3,465.4 1163.8,462.5 1162.7,459.7 1162.4,456.8 1162.4,454.0 1161.2,451.5 1161.0,448.7 1159.5,446.3 1158.6,443.7 1157.8,440.9 1156.7,438.2 1155.8,435.5 1155.5,432.6 1154.9,429.8 1154.5,426.9 1152.8,424.4 1152.9,421.4 1151.6,418.9 1150.6,416.3 1148.9,413.9 1149.4,410.8 1147.2,408.6 1147.6,405.6 1146.2,403.1 1145.0,400.6 1145.0,397.7 1142.8,395.5 1142.9,392.6 1141.6,390.2 1140.8,387.6 1141.1,384.7 1139.6,382.3 1139.7,379.5 1139.2,376.8 1138.0,374.3 1138.2,371.5 1136.7,369.0 1136.3,366.0 1137.1,363.2 1136.8,360.2 1137.8,357.3 1138.3,354.4 1138.3,351.5 1137.8,348.8 1137.2,346.0 1137.2,343.3 1138.1,340.5 1137.3,337.8 1137.9,335.0 1137.0,332.3 1137.4,329.6 1136.1,326.9 1136.5,324.1 1136.7,321.4 1136.0,318.7 1136.2,315.9 1136.6,313.1 1135.7,310.4 1135.8,307.7 1136.4,305.0 1135.8,302.3 1136.0,299.6 1135.8,296.9 1135.1,294.2 1135.6,291.5 1134.6,288.9 1134.7,286.1 1134.5,283.5 1134.8,280.7 1133.4,278.1 1134.3,275.4 1133.2,272.7 1133.5,270.0 1132.6,267.1 1131.5,264.2 1132.0,261.0 1131.4,258.0 1130.6,255.0 1129.4,252.6 1128.7,250.1 1128.5,247.4 1128.1,244.8 1126.7,242.4 1126.5,239.7 1126.3,237.1 1125.6,234.5 1124.7,231.9 1123.2,229.3 1122.7,226.6 1123.1,223.7 1121.5,221.2 1121.1,218.4 1120.3,215.7 1119.5,213.1 1119.9,210.1 1118.7,207.5 1118.0,204.9 1117.1,202.2 1116.3,199.6 1115.9,196.8 1115.8,194.0 1114.2,191.5 1114.2,188.7 1113.2,186.1 1112.6,183.4 1111.8,180.7 1111.2,178.0 1110.9,175.2 1110.4,172.5 1109.6,169.9 1108.7,167.3 1107.1,164.9 1106.6,162.2 1106.0,159.5 1105.1,156.9 1102.8,154.8 1102.5,152.3 1098.8,151.8 1095.0,151.4 1092.8,153.4 1091.0,155.5 1088.0,155.9 1085.8,157.5 1083.5,159.1 1082.7,162.0 1082.0,164.8 1079.9,166.9 1078.7,169.4 1078.1,172.3 1076.0,174.3 1074.5,176.7 1073.2,179.1 1072.2,181.8 1071.8,184.6 1071.6,187.2 1070.4,189.7 1069.9,192.3 1070.0,195.1 1068.7,197.5 1068.5,200.2 1067.6,202.7 1067.9,205.5 1066.5,208.0 1065.9,210.6 1065.1,213.1 1065.5,215.9 1064.8,218.5 1063.5,221.0 1063.9,223.8 1063.0,226.3 1061.9,228.8 1062.4,231.6 1062.1,234.3 1060.8,236.9 1061.6,239.7 1060.8,242.3 1060.7,245.1 1059.6,247.7" fill="#ed1c24" stroke="#ed1c24" stroke-width="1.2" stroke-linejoin="round" />
<polygon points="1017.2,487.6 1017.1,484.7 1017.2,481.7 1016.4,478.8 1016.1,475.9 1015.9,472.9 1015.1,470.1 1014.5,467.0 1013.6,464.0 1012.8,460.9 1011.0,457.8 1013.9,456.8 1016.3,455.5 1019.3,455.2 1020.1,452.3 1020.2,449.3 1022.2,446.9 1023.0,444.1 1023.1,441.4 1023.5,438.7 1023.4,435.9 1023.7,433.2 1024.8,430.7 1024.7,427.9 1025.3,425.2 1025.8,422.6 1026.0,419.9 1027.0,417.3 1027.2,414.7 1027.9,412.1 1027.7,409.5 1028.1,406.9 1028.1,404.3 1028.6,401.7 1028.5,399.1 1028.6,396.4 1029.6,393.9 1029.9,391.3 1029.9,388.7 1030.0,386.1 1029.7,383.4 1029.9,380.8 1030.2,378.2 1030.1,375.6 1031.2,373.1 1031.0,370.4 1031.7,367.8 1031.4,365.2 1032.3,362.7 1032.4,360.0 1031.7,357.3 1032.2,354.8 1033.3,352.3 1033.1,349.6 1033.9,347.1 1033.5,344.5 1033.4,341.8 1034.4,339.3 1034.8,336.7 1034.5,334.1 1034.5,331.5 1035.1,328.9 1036.1,326.4 1036.2,323.8 1035.7,321.1 1036.1,318.6 1036.3,315.8 1036.7,313.0 1038.0,310.4 1037.7,307.6 1038.5,304.9 1038.8,302.1 1038.9,299.4 1039.9,296.7 1039.6,293.9 1040.7,291.2 1040.4,288.4 1041.2,285.7 1041.2,282.9 1041.6,280.2 1042.7,277.5 1042.8,274.8 1042.4,272.0 1043.4,269.3 1042.9,266.5 1043.4,263.8 1045.0,261.2 1046.0,258.4 1046.5,255.4 1048.6,253.1 1048.9,250.0 1050.1,247.3 1051.6,244.4 1051.9,241.1 1052.8,237.9 1060.2,237.9 1059.8,241.2 1058.6,244.2 1057.7,247.1 1055.6,247.0 1055.4,250.1 1055.6,253.0 1054.5,255.6 1054.0,258.3 1053.8,261.1 1053.1,263.8 1052.8,266.5 1052.2,269.2 1052.0,272.0 1052.2,274.8 1051.4,277.4 1051.1,280.2 1051.1,282.9 1051.2,285.7 1050.1,288.4 1049.8,291.1 1049.5,293.9 1049.1,296.6 1048.5,299.3 1048.3,302.1 1048.1,304.9 1048.2,307.7 1046.7,310.3 1047.1,313.1 1046.2,315.8 1046.1,318.6 1045.7,321.2 1046.1,323.8 1044.7,326.3 1044.8,328.9 1044.2,331.5 1045.0,334.2 1044.7,336.8 1044.3,339.3 1043.5,341.9 1043.1,344.5 1042.9,347.0 1042.2,349.6 1042.1,352.2 1042.4,354.8 1042.4,357.5 1041.6,360.0 1041.6,362.6 1041.6,365.2 1041.5,367.9 1040.9,370.4 1040.8,373.0 1040.9,375.7 1040.5,378.3 1039.4,380.8 1039.9,383.5 1039.3,386.0 1038.8,388.6 1038.9,391.2 1039.1,393.9 1039.0,396.5 1038.0,399.0 1038.5,401.7 1038.1,404.3 1037.5,406.9 1037.0,409.5 1037.4,412.1 1036.7,414.7 1037.0,417.3 1035.8,419.9 1036.6,422.7 1036.2,425.4 1035.5,428.0 1035.0,430.6 1034.3,433.3 1033.9,435.9 1034.5,438.7 1033.3,441.3 1033.2,443.9 1032.8,446.8 1031.8,449.4 1030.1,452.0 1030.7,455.4 1032.3,458.6 1030.6,461.0 1028.2,462.7 1026.9,465.2 1025.3,467.5 1023.2,469.4 1022.1,472.0 1021.6,474.6 1020.7,477.2 1020.6,479.9 1019.6,482.4 1019.6,485.1 1019.0,487.7" fill="#ee2c4b" stroke="#ee2c4b" stroke-width="1.2" stroke-linejoin="round" />
<polygon points="1043,340 1048.5,337.5 1044,345" fill="#ed1c24"/>
<polygon points="1046.6,267.9 1048.3,265.1 1049.3,262.1 1050.6,259.2 1050.5,255.8 1051.7,252.8 1052.7,249.8 1054.1,246.7 1057.0,246.1 1059.5,244.0 1058.7,247.1 1058.9,249.8 1058.4,252.4 1057.8,255.0 1056.8,257.5 1056.8,260.1 1057.6,262.9 1056.7,265.4 1056.6,268.0 1055.9,271.1 1056.5,274.0 1057.0,276.9 1057.5,279.9 1058.1,282.8 1058.3,285.9 1059.2,288.6 1060.8,291.1 1060.4,294.1 1061.7,296.7 1061.9,299.5 1062.8,302.2 1063.7,304.9 1064.5,307.6 1065.0,310.3 1065.8,313.0 1066.8,315.7 1066.2,318.7 1067.0,321.3 1067.5,324.0 1068.7,326.5 1069.7,329.0 1070.2,331.7 1072.0,333.9 1071.8,336.8 1072.9,339.3 1074.2,341.7 1074.9,344.3 1075.1,347.1 1076.3,349.5 1076.7,352.2 1077.2,354.9 1078.3,357.4 1079.5,359.8 1080.0,362.4 1081.5,364.6 1082.5,367.0 1083.6,369.4 1084.4,371.9 1086.0,374.4 1086.1,377.4 1086.7,380.3 1088.8,382.5 1089.3,385.4 1090.1,388.2 1092.7,390.2 1093.6,392.9 1094.1,396.0 1095.6,398.5 1097.5,400.8 1099.8,402.9 1101.0,405.6 1101.9,408.6 1103.5,411.2 1105.8,412.8 1108.7,413.6 1110.1,416.2 1112.9,417.2 1112.9,420.1 1114.4,422.6 1113.5,425.7 1114.7,428.3 1115.1,431.1 1116.5,433.6 1116.3,436.5 1117.0,439.3 1118.9,441.2 1121.0,442.8 1122.5,445.1 1124.8,446.5 1126.8,448.3 1128.8,450.0 1130.1,452.5 1133.0,454.0 1135.0,456.4 1137.4,458.4 1138.8,461.2 1140.0,463.9 1141.1,466.6 1143.1,469.0 1143.5,472.0 1146.1,474.1 1149.0,475.9 1151.7,477.9 1154.9,476.6 1156.1,473.9 1156.7,471.1 1157.2,468.3 1157.0,465.5 1157.5,462.8 1155.8,460.5 1155.3,458.0 1154.8,455.4 1154.6,452.7 1155.2,449.8 1152.8,447.6 1151.8,444.8 1150.9,442.0 1149.2,439.6 1147.3,437.5 1144.7,435.9 1142.7,433.1 1139.9,431.5 1137.0,430.3 1135.6,427.7 1134.1,425.2 1133.6,422.2 1131.6,419.9 1131.0,416.9 1128.8,414.9 1127.1,412.7 1124.6,411.0 1123.7,408.2 1121.3,406.5 1119.2,404.8 1117.1,403.0 1114.5,401.9 1113.2,399.3 1111.1,397.4 1109.4,395.1 1108.4,392.5 1107.8,389.7 1107.1,386.9 1105.0,384.8 1104.5,382.0 1102.5,379.9 1102.4,377.2 1100.7,375.1 1101.5,372.0 1100.4,369.6 1098.8,367.4 1097.9,365.0 1096.6,362.7 1095.6,360.3 1095.2,357.6 1094.0,355.1 1092.8,352.7 1092.7,349.8 1090.5,347.8 1090.7,344.7 1088.4,342.8 1087.9,340.0 1086.8,337.4 1086.0,334.7 1085.5,331.9 1084.5,329.3 1083.1,326.8 1083.2,323.8 1081.0,321.6 1081.2,318.6 1080.8,315.8 1079.0,313.3 1078.9,310.4 1077.7,307.8 1077.6,305.0 1076.7,302.3 1076.2,299.5 1075.5,296.8 1075.0,294.0 1074.8,291.1 1073.6,288.5 1074.0,285.6 1073.1,282.9 1071.8,280.3 1072.0,277.4 1071.7,274.6 1070.3,272.0 1068.9,269.5 1068.8,266.6 1068.8,263.7 1067.6,261.1 1066.7,258.3 1066.6,255.3 1064.9,252.8 1063.7,250.1 1061.5,247.7 1060.5,243.9 1059.2,247.1 1058.1,250.0 1057.7,253.2 1055.8,255.9 1055.4,259.1 1054.3,262.1 1053.6,265.2 1051.1,267.7" fill="#ee3a58" stroke="#ee3a58" stroke-width="1.2" stroke-linejoin="round" />
<rect x="1083.1" y="118.3" width="9" height="3.5" rx="1.3" fill="#fff"/>
<rect x="1107.5" y="98.0" width="9" height="3.5" rx="1.3" fill="#fff"/>
<rect x="1128.2" y="103.8" width="9" height="3.5" rx="1.3" fill="#fff"/>
<rect x="1149.8" y="105.8" width="9" height="3.5" rx="1.3" fill="#fff"/>
<rect x="1170.4" y="105.8" width="9" height="3.5" rx="1.3" fill="#fff"/>
<rect x="1192.0" y="107.0" width="9" height="3.5" rx="1.3" fill="#fff"/>
<rect x="1213.6" y="110.8" width="9" height="3.5" rx="1.3" fill="#fff"/>
<rect x="1234.2" y="114.5" width="9" height="3.5" rx="1.3" fill="#fff"/>
<rect x="1254.9" y="118.7" width="9" height="3.5" rx="1.3" fill="#fff"/>
<rect x="1276.5" y="121.8" width="9" height="3.5" rx="1.3" fill="#fff"/>
<rect x="1295.9" y="129.2" width="9" height="3.5" rx="1.3" fill="#fff"/>
<rect x="1316.5" y="135.6" width="9" height="3.5" rx="1.3" fill="#fff"/>
<rect x="1336.2" y="144.1" width="9" height="3.5" rx="1.3" fill="#fff"/>
<rect x="1355.9" y="155.8" width="9" height="3.5" rx="1.3" fill="#fff"/>
<rect x="1376.6" y="167.2" width="9" height="3.5" rx="1.3" fill="#fff"/>
<rect x="1395.4" y="185.9" width="9" height="3.5" rx="1.3" fill="#fff"/>
<rect x="1414.1" y="207.8" width="9" height="3.5" rx="1.3" fill="#fff"/>
<rect x="1434.8" y="244.1" width="9" height="3.5" rx="1.3" fill="#fff"/>
<rect x="1452.5" y="289.9" width="9" height="3.5" rx="1.3" fill="#fff"/>
<rect x="1472.4" y="340.4" width="9" height="3.5" rx="1.3" fill="#fff"/>
<rect x="1491.1" y="409.1" width="9" height="3.5" rx="1.3" fill="#fff"/>
<rect x="1508.4" y="445.8" width="9" height="3.5" rx="1.3" fill="#fff"/>
<polygon points="1087.1,132.6 1095.7,132.6 1091.4,127.2" fill="#fff" stroke="#fff" stroke-width="0.8" stroke-linejoin="round"/>
<polygon points="1102.1,136.4 1110.7,136.4 1106.4,131.0" fill="#fff" stroke="#fff" stroke-width="0.8" stroke-linejoin="round"/>
<polygon points="1073.0,147.6 1081.6,147.6 1077.3,142.2" fill="#fff" stroke="#fff" stroke-width="0.8" stroke-linejoin="round"/>
<polygon points="1079.6,150.4 1088.2,150.4 1083.9,145.0" fill="#fff" stroke="#fff" stroke-width="0.8" stroke-linejoin="round"/>
<polygon points="1094.6,148.6 1103.2,148.6 1098.9,143.2" fill="#fff" stroke="#fff" stroke-width="0.8" stroke-linejoin="round"/>
<polygon points="1109.6,166.4 1118.2,166.4 1113.9,161.0" fill="#fff" stroke="#fff" stroke-width="0.8" stroke-linejoin="round"/>
<polygon points="1065.5,177.6 1074.1,177.6 1069.8,172.2" fill="#fff" stroke="#fff" stroke-width="0.8" stroke-linejoin="round"/>
<polygon points="1116.2,179.5 1124.8,179.5 1120.5,174.1" fill="#fff" stroke="#fff" stroke-width="0.8" stroke-linejoin="round"/>
<polygon points="1058.0,189.9 1066.6,189.9 1062.3,184.5" fill="#fff" stroke="#fff" stroke-width="0.8" stroke-linejoin="round"/>
<polygon points="1050.5,233.4 1059.1,233.4 1054.8,228.0" fill="#fff" stroke="#fff" stroke-width="0.8" stroke-linejoin="round"/>
<polygon points="1123.7,233.4 1132.3,233.4 1128.0,228.0" fill="#fff" stroke="#fff" stroke-width="0.8" stroke-linejoin="round"/>
<polygon points="1132.1,258.4 1140.7,258.4 1136.4,253.0" fill="#fff" stroke="#fff" stroke-width="0.8" stroke-linejoin="round"/>
<polygon points="1138.0,368.0 1146.6,368.0 1142.3,362.6" fill="#fff" stroke="#fff" stroke-width="0.8" stroke-linejoin="round"/>
<polygon points="1145.7,399.7 1154.3,399.7 1150.0,394.3" fill="#fff" stroke="#fff" stroke-width="0.8" stroke-linejoin="round"/>
<polygon points="1153.4,426.0 1162.0,426.0 1157.7,420.6" fill="#fff" stroke="#fff" stroke-width="0.8" stroke-linejoin="round"/>
<polygon points="1159.9,444.7 1168.5,444.7 1164.2,439.3" fill="#fff" stroke="#fff" stroke-width="0.8" stroke-linejoin="round"/>
<polygon points="1165.4,453.4 1174.0,453.4 1169.7,448.0" fill="#fff" stroke="#fff" stroke-width="0.8" stroke-linejoin="round"/>
<polygon points="1178.6,457.8 1187.2,457.8 1182.9,452.4" fill="#fff" stroke="#fff" stroke-width="0.8" stroke-linejoin="round"/>
<circle cx="1034.9" cy="408.5" r="1.5" fill="#fff" opacity="0.9"/>
<circle cx="1044.8" cy="338.4" r="1.5" fill="#fff" opacity="0.9"/>
<circle cx="1030.5" cy="457" r="1.5" fill="#fff" opacity="0.9"/>
<line x1="1169.4" y1="251.5" x2="1230.0" y2="251.5" stroke="#e93560" stroke-width="3.0" stroke-linecap="round"/>
<line x1="1170.4" y1="285.2" x2="1229.5" y2="285.2" stroke="#1656aa" stroke-width="5.0" stroke-linecap="round"/>
<line x1="1169.9" y1="317.3" x2="1229.5" y2="317.3" stroke="#ed1c24" stroke-width="4.6" stroke-linecap="round"/>
<polygon points="1192.5,317 1207,317 1199.7,324.5" fill="#ed1c24" stroke="#ed1c24" stroke-width="1" stroke-linejoin="round"/>
<polygon points="1195.6,314.8 1203.8,314.8 1199.7,310.5" fill="#fff" stroke="#f7c5cf" stroke-width="0.6"/>
<line x1="1169.9" y1="351.7" x2="1229.5" y2="351.7" stroke="#1656aa" stroke-width="4.6" stroke-linecap="round"/>
<rect x="1194" y="345.4" width="10.6" height="12.4" rx="1.6" fill="#fff" stroke="#1656aa" stroke-width="1"/>
<rect x="1194" y="345.4" width="10.6" height="7.2" rx="1.6" fill="#1656aa"/>
<text x="1234.2" y="263.7" font-size="27.7" text-anchor="start" >VIM-cast</text>
<text x="1233.6" y="296.3" font-size="27.7" text-anchor="start" >ESR-cast</text>
<text x="1234.2" y="328.4" font-size="27.7" text-anchor="start" >VIM-annealed</text>
<text x="1233.6" y="361.0" font-size="27.7" text-anchor="start" >ESR-annealed</text>
<path d="M530.3,834.9 C530.9,831.6 531.2,828.1 532.4,822.7 C533.6,817.3 533.5,824.3 534.8,814.6 C536.2,804.8 535.9,799.1 537.5,786.1 C539.0,773.1 538.1,772.5 540.5,765.8 C542.9,759.0 543.6,763.4 546.6,760.7 C549.6,758.0 549.8,761.3 551.7,755.6 C553.6,749.9 552.0,751.0 553.7,739.3 C555.5,727.7 556.0,711.3 558.2,711.9 C560.4,712.4 560.2,727.0 561.9,741.4 C563.5,755.7 562.6,759.2 564.5,765.8 C566.4,772.3 566.4,767.9 569.0,765.8 C571.5,763.6 570.8,764.7 574.1,757.6 C577.3,750.6 578.3,739.3 581.2,739.3 C584.1,739.3 582.9,746.5 584.8,757.6 C586.7,768.7 586.3,781.0 588.3,781.0 C590.3,781.0 590.0,773.1 592.4,757.6 C594.7,742.2 595.1,720.9 597.0,723.0 C598.9,725.2 597.9,743.2 599.5,765.8 C601.1,788.3 601.0,800.9 603.1,807.4 C605.3,814.0 605.3,799.1 607.6,790.2 C609.9,781.2 609.2,779.9 611.7,773.9 C614.1,767.9 614.3,773.2 616.8,767.8 C619.2,762.4 618.3,763.0 620.8,753.6 C623.4,744.1 623.9,731.1 626.3,732.2 C628.8,733.3 627.8,743.0 630.0,757.6 C632.2,772.3 631.8,784.7 634.5,787.1 C637.2,789.6 637.3,772.5 640.2,766.8 C643.0,761.1 642.5,764.7 645.2,765.8 C648.0,766.8 647.6,766.5 650.3,770.8 C653.0,775.2 652.7,782.6 655.4,782.0 C658.1,781.5 658.3,774.2 660.5,768.8 C662.7,763.4 661.9,770.4 663.5,761.7 C665.2,753.0 664.7,734.1 666.6,736.3 C668.5,738.4 668.5,753.0 670.7,769.8 C672.8,786.6 671.8,793.3 674.7,799.3 C677.7,805.3 678.3,798.2 681.9,792.2 C685.4,786.2 684.7,786.2 688.0,776.9 C691.2,767.7 691.3,756.3 694.1,757.6 C696.8,759.0 696.2,770.4 698.1,782.0 C700.0,793.7 698.5,800.0 701.2,801.3 C703.9,802.7 704.5,795.2 708.3,787.1 C712.1,779.0 712.2,776.3 715.4,770.8 C718.7,765.4 717.8,762.7 720.5,766.8 C723.2,770.8 723.1,779.3 725.6,786.1 C728.0,792.9 725.3,793.0 729.6,792.2 C734.0,791.4 736.7,787.9 741.8,783.0 C747.0,778.2 745.7,779.9 749.0,773.9 C752.2,767.9 750.8,760.4 754.1,760.7 C757.3,760.9 758.0,763.0 761.2,774.9 C764.3,786.8 762.9,802.4 765.8,805.4 C768.8,808.4 769.0,793.7 772.4,786.1 C775.7,778.5 775.6,780.4 778.5,776.9 C781.3,773.5 781.0,777.1 783.1,773.2 C785.2,769.3 784.6,766.4 786.3,762.3 C787.9,758.1 787.1,757.6 789.4,757.6 C791.7,757.6 792.6,758.1 794.9,762.3 C797.2,766.4 796.5,767.0 798.0,773.2 C799.5,779.5 798.9,780.3 800.3,785.7 C801.8,791.2 801.6,793.1 803.5,793.6 C805.4,794.0 805.7,790.0 807.4,787.3 C809.1,784.6 808.3,781.7 809.7,783.4 C811.2,785.1 811.7,787.1 812.9,793.6 C814.0,800.0 813.2,801.0 814.1,807.7 C815.0,814.3 814.5,813.6 816.3,818.6 C818.1,823.6 818.6,822.1 821.0,826.4 C823.4,830.8 823.6,834.6 825.4,835.0 C827.2,835.5 826.5,831.3 827.7,828.0 C829.0,824.7 828.8,820.4 830.1,822.5 C831.3,824.6 831.4,828.9 832.4,835.8 C833.5,842.7 832.9,841.7 834.0,848.3 C835.1,855.0 835.1,855.2 836.7,860.9 C838.2,866.5 838.2,868.6 839.8,869.5 C841.4,870.3 841.2,866.5 842.6,864.0 C844.0,861.5 843.7,858.4 845.0,860.1 C846.2,861.8 846.3,863.4 847.3,870.3 C848.3,877.1 848.1,877.4 848.6,885.9 C849.0,894.5 848.8,898.0 848.9,902.3" fill="none" stroke="#ed1c24" stroke-width="5.6" stroke-linecap="round" stroke-linejoin="round" />
<path d="M783.1,773.2 C784.0,770.3 784.6,766.4 786.3,762.3 C787.9,758.1 787.1,757.6 789.4,757.6 C791.7,757.6 792.6,758.1 794.9,762.3 C797.2,766.4 796.5,767.0 798.0,773.2 C799.5,779.5 798.9,780.3 800.3,785.7 C801.8,791.2 801.6,793.1 803.5,793.6 C805.4,794.0 805.7,790.0 807.4,787.3 C809.1,784.6 808.3,781.7 809.7,783.4 C811.2,785.1 811.7,787.1 812.9,793.6 C814.0,800.0 813.2,801.0 814.1,807.7 C815.0,814.3 814.5,813.6 816.3,818.6 C818.1,823.6 818.6,822.1 821.0,826.4 C823.4,830.8 823.6,834.6 825.4,835.0 C827.2,835.5 826.5,831.3 827.7,828.0 C829.0,824.7 828.8,820.4 830.1,822.5 C831.3,824.6 831.4,828.9 832.4,835.8 C833.5,842.7 832.9,841.7 834.0,848.3 C835.1,855.0 835.1,855.2 836.7,860.9 C838.2,866.5 838.2,868.6 839.8,869.5 C841.4,870.3 841.2,866.5 842.6,864.0 C844.0,861.5 843.7,858.4 845.0,860.1 C846.2,861.8 846.3,863.4 847.3,870.3 C848.3,877.1 848.1,877.4 848.6,885.9 C849.0,894.5 848.8,898.0 848.9,902.3" fill="none" stroke="#ed1c24" stroke-width="8.4" stroke-linecap="round" stroke-linejoin="round" />
<path d="M848.9,902.3 L917.7,903.9" fill="none" stroke="#ed1c24" stroke-width="5.2" stroke-linecap="round" stroke-linejoin="round" />
<ellipse cx="852.8" cy="902.9" rx="5" ry="4.2" fill="#ed1c24"/>
<ellipse cx="852.8" cy="906.6" rx="3.6" ry="1.3" fill="#fff"/>
<ellipse cx="864.5" cy="902.9" rx="5" ry="4.2" fill="#ed1c24"/>
<ellipse cx="864.5" cy="906.6" rx="3.6" ry="1.3" fill="#fff"/>
<ellipse cx="876.3" cy="902.9" rx="5" ry="4.2" fill="#ed1c24"/>
<ellipse cx="876.3" cy="906.6" rx="3.6" ry="1.3" fill="#fff"/>
<ellipse cx="888.8" cy="902.9" rx="5" ry="4.2" fill="#ed1c24"/>
<ellipse cx="888.8" cy="906.6" rx="3.6" ry="1.3" fill="#fff"/>
<ellipse cx="900.5" cy="902.9" rx="5" ry="4.2" fill="#ed1c24"/>
<ellipse cx="900.5" cy="906.6" rx="3.6" ry="1.3" fill="#fff"/>
<polygon points="522.5,902 522.6,720 523.4,670.3 531.4,670.3 532.6,700 533.0,760 533.8,820 531.5,838 530.2,842 529.2,870 528.6,902" fill="#ed1c24"/>
<path d="M529.8,790 C530.5,820 531,832 531.8,836 C533,830 534,822 534.8,816" fill="none" stroke="#ed1c24" stroke-width="4.5" stroke-linecap="round" stroke-linejoin="round" />
<line x1="529.0" y1="672.0" x2="529.0" y2="760.0" stroke="#f0307a" stroke-width="1.0" />
<ellipse cx="525.6" cy="898.5" rx="4.6" ry="4" fill="#ed1c24"/>
<rect x="521.8" y="899.6" width="7" height="2.4" rx="1" fill="#fff"/>
<path d="M521.5,902.5 Q525,905.5 528.6,902.3" fill="none" stroke="#ec2a7a" stroke-width="1.2"/>
<ellipse cx="533.4" cy="821.1" rx="5.6" ry="4.4" fill="#ed1c24"/>
<ellipse cx="533.4" cy="824.0" rx="4.2" ry="1.5" fill="#fff"/>
<path d="M528.8,824.3 Q533.4,828.3 538.0,824.3" fill="none" stroke="#ee2a6c" stroke-width="1.1"/>
<ellipse cx="543.6" cy="763.1" rx="5.6" ry="4.4" fill="#ed1c24"/>
<ellipse cx="543.6" cy="766.0" rx="4.2" ry="1.5" fill="#fff"/>
<path d="M539.0,766.3 Q543.6,770.3 548.2,766.3" fill="none" stroke="#ee2a6c" stroke-width="1.1"/>
<ellipse cx="554.3" cy="736.7" rx="5.6" ry="4.4" fill="#ed1c24"/>
<ellipse cx="554.3" cy="739.6" rx="4.2" ry="1.5" fill="#fff"/>
<path d="M549.7,739.9 Q554.3,743.9 558.9,739.9" fill="none" stroke="#ee2a6c" stroke-width="1.1"/>
<ellipse cx="566.9" cy="768.2" rx="5.6" ry="4.4" fill="#ed1c24"/>
<ellipse cx="566.9" cy="771.1" rx="4.2" ry="1.5" fill="#fff"/>
<path d="M562.3,771.4 Q566.9,775.4 571.5,771.4" fill="none" stroke="#ee2a6c" stroke-width="1.1"/>
<ellipse cx="585.2" cy="758.1" rx="5.6" ry="4.4" fill="#ed1c24"/>
<ellipse cx="585.2" cy="761.0" rx="4.2" ry="1.5" fill="#fff"/>
<path d="M580.6,761.3 Q585.2,765.3 589.8,761.3" fill="none" stroke="#ee2a6c" stroke-width="1.1"/>
<ellipse cx="603.6" cy="807.9" rx="5.6" ry="4.4" fill="#ed1c24"/>
<ellipse cx="603.6" cy="810.8" rx="4.2" ry="1.5" fill="#fff"/>
<path d="M599.0,811.1 Q603.6,815.1 608.2,811.1" fill="none" stroke="#ee2a6c" stroke-width="1.1"/>
<ellipse cx="621.9" cy="753.0" rx="5.6" ry="4.4" fill="#ed1c24"/>
<ellipse cx="621.9" cy="755.9" rx="4.2" ry="1.5" fill="#fff"/>
<path d="M617.3,756.2 Q621.9,760.2 626.5,756.2" fill="none" stroke="#ee2a6c" stroke-width="1.1"/>
<ellipse cx="642.2" cy="765.2" rx="5.6" ry="4.4" fill="#ed1c24"/>
<ellipse cx="642.2" cy="768.1" rx="4.2" ry="1.5" fill="#fff"/>
<path d="M637.6,768.4 Q642.2,772.4 646.8,768.4" fill="none" stroke="#ee2a6c" stroke-width="1.1"/>
<ellipse cx="662.5" cy="768.2" rx="5.6" ry="4.4" fill="#ed1c24"/>
<ellipse cx="662.5" cy="771.1" rx="4.2" ry="1.5" fill="#fff"/>
<path d="M657.9,771.4 Q662.5,775.4 667.1,771.4" fill="none" stroke="#ee2a6c" stroke-width="1.1"/>
<ellipse cx="681.9" cy="792.6" rx="5.6" ry="4.4" fill="#ed1c24"/>
<ellipse cx="681.9" cy="795.5" rx="4.2" ry="1.5" fill="#fff"/>
<path d="M677.3,795.8 Q681.9,799.8 686.5,795.8" fill="none" stroke="#ee2a6c" stroke-width="1.1"/>
<ellipse cx="701.2" cy="801.8" rx="5.6" ry="4.4" fill="#ed1c24"/>
<ellipse cx="701.2" cy="804.7" rx="4.2" ry="1.5" fill="#fff"/>
<path d="M696.6,805.0 Q701.2,809.0 705.8,805.0" fill="none" stroke="#ee2a6c" stroke-width="1.1"/>
<ellipse cx="720.5" cy="767.2" rx="5.6" ry="4.4" fill="#ed1c24"/>
<ellipse cx="720.5" cy="770.1" rx="4.2" ry="1.5" fill="#fff"/>
<path d="M715.9,770.4 Q720.5,774.4 725.1,770.4" fill="none" stroke="#ee2a6c" stroke-width="1.1"/>
<ellipse cx="741.8" cy="784.5" rx="5.6" ry="4.4" fill="#ed1c24"/>
<ellipse cx="741.8" cy="787.4" rx="4.2" ry="1.5" fill="#fff"/>
<path d="M737.2,787.7 Q741.8,791.7 746.4,787.7" fill="none" stroke="#ee2a6c" stroke-width="1.1"/>
<ellipse cx="761.2" cy="774.3" rx="5.6" ry="4.4" fill="#ed1c24"/>
<ellipse cx="761.2" cy="777.2" rx="4.2" ry="1.5" fill="#fff"/>
<path d="M756.6,777.5 Q761.2,781.5 765.8,777.5" fill="none" stroke="#ee2a6c" stroke-width="1.1"/>
<ellipse cx="778.5" cy="776.4" rx="5.6" ry="4.4" fill="#ed1c24"/>
<ellipse cx="778.5" cy="779.3" rx="4.2" ry="1.5" fill="#fff"/>
<path d="M773.9,779.6 Q778.5,783.6 783.1,779.6" fill="none" stroke="#ee2a6c" stroke-width="1.1"/>
<ellipse cx="791.7" cy="762.1" rx="5.6" ry="4.4" fill="#ed1c24"/>
<ellipse cx="791.7" cy="765.0" rx="4.2" ry="1.5" fill="#fff"/>
<path d="M787.1,765.3 Q791.7,769.3 796.3,765.3" fill="none" stroke="#ee2a6c" stroke-width="1.1"/>
<ellipse cx="803.9" cy="793.6" rx="5.6" ry="4.4" fill="#ed1c24"/>
<ellipse cx="803.9" cy="796.5" rx="4.2" ry="1.5" fill="#fff"/>
<path d="M799.3,796.8 Q803.9,800.8 808.5,796.8" fill="none" stroke="#ee2a6c" stroke-width="1.1"/>
<ellipse cx="791.7" cy="763.8" rx="5.6" ry="4.4" fill="#ed1c24"/>
<ellipse cx="791.7" cy="766.7" rx="4.2" ry="1.5" fill="#fff"/>
<path d="M787.1,767.0 Q791.7,771.0 796.3,767.0" fill="none" stroke="#ee2a6c" stroke-width="1.1"/>
<ellipse cx="803.5" cy="793.5" rx="5.6" ry="4.4" fill="#ed1c24"/>
<ellipse cx="803.5" cy="796.4" rx="4.2" ry="1.5" fill="#fff"/>
<path d="M798.9,796.7 Q803.5,800.7 808.1,796.7" fill="none" stroke="#ee2a6c" stroke-width="1.1"/>
<ellipse cx="816.0" cy="818.6" rx="5.6" ry="4.4" fill="#ed1c24"/>
<ellipse cx="816.0" cy="821.5" rx="4.2" ry="1.5" fill="#fff"/>
<path d="M811.4,821.8 Q816.0,825.8 820.6,821.8" fill="none" stroke="#ee2a6c" stroke-width="1.1"/>
<ellipse cx="827.0" cy="834.2" rx="5.6" ry="4.4" fill="#ed1c24"/>
<ellipse cx="827.0" cy="837.1" rx="4.2" ry="1.5" fill="#fff"/>
<path d="M822.4,837.4 Q827.0,841.4 831.6,837.4" fill="none" stroke="#ee2a6c" stroke-width="1.1"/>
<ellipse cx="839.5" cy="868.7" rx="5.6" ry="4.4" fill="#ed1c24"/>
<ellipse cx="839.5" cy="871.6" rx="4.2" ry="1.5" fill="#fff"/>
<path d="M834.9,871.9 Q839.5,875.9 844.1,871.9" fill="none" stroke="#ee2a6c" stroke-width="1.1"/>
<path d="M531.6,1067.9 C532.3,1063.1 532.7,1057.3 534.5,1049.8 C536.3,1042.2 536.4,1037.7 538.4,1039.6 C540.3,1041.4 540.1,1049.9 541.8,1056.6 C543.4,1063.2 542.4,1065.1 544.5,1064.5 C546.6,1063.9 546.2,1057.7 549.7,1054.3 C553.2,1050.9 554.0,1051.0 557.7,1051.6 C561.3,1052.2 560.2,1054.6 563.3,1056.6 C566.5,1058.5 566.4,1056.5 569.5,1058.8 C572.5,1061.1 571.8,1065.2 574.7,1065.2 C577.6,1065.2 577.0,1062.5 580.3,1058.8 C583.7,1055.2 583.5,1052.5 587.1,1051.6 C590.8,1050.7 590.3,1054.6 594.0,1055.4 C597.6,1056.3 597.1,1053.7 600.8,1054.8 C604.4,1055.8 603.6,1058.8 607.6,1059.3 C611.5,1059.8 611.3,1057.2 615.5,1056.6 C619.7,1056.0 619.5,1056.4 623.5,1057.0 C627.4,1057.6 627.4,1056.7 630.3,1058.8 C633.2,1061.0 631.9,1066.1 634.3,1065.2 C636.8,1064.3 636.2,1057.7 639.3,1055.4 C642.5,1053.1 642.8,1054.8 646.1,1056.6 C649.5,1058.4 648.5,1063.0 651.8,1062.2 C655.1,1061.5 654.7,1054.8 658.6,1053.8 C662.6,1052.9 663.5,1056.6 666.6,1058.8 C669.6,1061.1 667.2,1062.8 670.0,1062.2 C672.7,1061.6 673.5,1054.6 676.8,1056.6 C680.1,1058.6 679.4,1068.8 682.5,1069.7 C685.5,1070.6 685.1,1062.2 688.1,1060.0 C691.2,1057.8 690.8,1058.7 693.8,1061.6 C696.8,1064.4 696.3,1070.5 699.5,1070.6 C702.6,1070.8 702.6,1066.0 705.6,1062.2 C708.6,1058.5 707.8,1059.0 710.8,1056.6 C713.8,1054.1 713.3,1052.1 716.9,1053.2 C720.6,1054.3 720.4,1057.6 724.4,1060.7 C728.4,1063.7 728.1,1065.5 731.9,1064.5 C735.7,1063.5 734.7,1056.4 738.7,1057.0 C742.8,1057.6 743.1,1067.4 747.1,1066.8 C751.2,1066.2 750.0,1055.5 753.9,1054.8 C757.9,1054.0 757.3,1063.2 761.9,1063.8 C766.4,1064.4 766.2,1058.2 770.9,1057.0 C775.7,1055.8 775.6,1056.1 779.6,1059.3 C783.6,1062.5 782.7,1068.9 785.9,1069.1 C789.2,1069.4 788.7,1063.9 791.9,1060.2 C795.1,1056.5 794.7,1054.2 797.8,1055.3 C801.0,1056.4 800.2,1065.0 803.8,1064.2 C807.4,1063.4 807.6,1054.7 811.2,1052.3 C814.8,1049.9 814.0,1052.6 817.2,1055.3 C820.3,1058.0 819.9,1060.1 823.1,1062.4 C826.3,1064.8 825.9,1065.3 829.1,1064.2 C832.2,1063.1 832.0,1058.7 835.0,1058.3 C838.0,1057.9 837.4,1063.3 840.2,1062.7 C843.0,1062.2 842.4,1056.7 845.4,1056.2 C848.4,1055.7 848.2,1059.3 851.4,1060.9 C854.5,1062.6 854.1,1063.1 857.3,1062.4 C860.5,1061.7 860.1,1060.2 863.2,1058.3 C866.4,1056.4 866.0,1056.4 869.2,1055.3 C872.4,1054.2 872.0,1052.8 875.1,1054.3 C878.3,1055.8 877.9,1058.0 881.1,1060.9 C884.3,1063.9 884.1,1066.1 887.0,1065.4 C890.0,1064.7 890.2,1057.1 892.2,1058.3 C894.3,1059.5 893.6,1061.6 894.8,1069.9 C896.0,1078.1 895.6,1080.1 896.7,1089.2 C897.8,1098.3 897.9,1097.7 898.9,1104.1 C900.0,1110.4 899.5,1107.0 900.7,1113.0 C901.9,1118.9 901.8,1119.0 903.4,1126.4 C905.0,1133.7 904.7,1133.7 906.7,1140.5 C908.6,1147.2 908.3,1147.9 910.8,1151.6 C913.3,1155.4 913.8,1151.4 916.0,1154.6 C918.2,1157.8 918.0,1159.6 919.0,1163.5 C920.0,1167.5 919.5,1167.9 919.7,1169.5" fill="none" stroke="#2e3192" stroke-width="6.6" stroke-linecap="round" stroke-linejoin="round" />
<path d="M896.7,1089.2 C897.3,1093.2 897.9,1097.7 898.9,1104.1 C900.0,1110.4 899.5,1107.0 900.7,1113.0 C901.9,1118.9 901.8,1119.0 903.4,1126.4 C905.0,1133.7 904.7,1133.7 906.7,1140.5 C908.6,1147.2 908.3,1147.9 910.8,1151.6 C913.3,1155.4 913.8,1151.4 916.0,1154.6 C918.2,1157.8 918.0,1159.6 919.0,1163.5 C920.0,1167.5 919.5,1167.9 919.7,1169.5" fill="none" stroke="#2e3192" stroke-width="8.0" stroke-linecap="round" stroke-linejoin="round" />
<path d="M919.7,1169.5 L968.8,1169.5" fill="none" stroke="#2e3192" stroke-width="5.6" stroke-linecap="round" stroke-linejoin="round" />
<polygon points="522.3,1165 522.4,1100 522.6,960 523.6,914.3 531.5,914.3 532.4,975 532.8,1040 533.4,1066 530.6,1069 529.6,1050 528.4,1062 527.4,1090 527,1165" fill="#2e3192"/>
<line x1="527.6" y1="1000.0" x2="527.6" y2="1075.0" stroke="#7fa0dc" stroke-width="1.3" />
<rect x="521.5" y="1159" width="8.5" height="10.5" rx="1.5" fill="#2e3192"/>
<rect x="522.2" y="1165.2" width="6.6" height="2.6" fill="#fff" stroke="#7fa0dc" stroke-width="0.6"/>
<rect x="556.7" y="1060.3" width="11" height="5.2" rx="1" fill="#fff" stroke="#6d8fd6" stroke-width="1"/>
<rect x="612.7" y="1061.2" width="11" height="5.2" rx="1" fill="#fff" stroke="#6d8fd6" stroke-width="1"/>
<rect x="683.8" y="1060.3" width="11" height="5.2" rx="1" fill="#fff" stroke="#6d8fd6" stroke-width="1"/>
<rect x="751.8" y="1058.1" width="11" height="5.2" rx="1" fill="#fff" stroke="#6d8fd6" stroke-width="1"/>
<rect x="824.6" y="1064.7" width="9" height="3" rx="1" fill="#fff" stroke="#6d8fd6" stroke-width="0.8"/>
<rect x="868.4" y="1047.5" width="12" height="9" rx="1.5" fill="#2e3192"/>
<rect x="870.8" y="1054.4" width="7.2" height="2.4" rx="1" fill="#fff"/>
<rect x="910.0" y="1145.9" width="12" height="10" rx="1.5" fill="#2e3192"/>
<rect x="912.4" y="1152.1" width="7.2" height="2.6" rx="1" fill="#fff"/>
<rect x="949.4" y="1164.2" width="12" height="8" rx="1.5" fill="#2e3192"/>
<rect x="951.8" y="1170.7" width="7.2" height="2.2" rx="1" fill="#fff" opacity="0.9"/>
<defs><clipPath id="cp1"><rect x="939.8" y="676.3" width="240.8" height="224.6"/></clipPath><clipPath id="cp2"><rect x="940.7" y="934.4" width="239.2" height="212.2"/></clipPath><clipPath id="cpd2"><ellipse cx="1059.2" cy="1040" rx="116" ry="106"/></clipPath><filter id="b1" x="-5%" y="-5%" width="110%" height="110%"><feGaussianBlur stdDeviation="0.9"/></filter><filter id="b2" x="-5%" y="-5%" width="110%" height="110%"><feGaussianBlur stdDeviation="2.2"/></filter><filter id="b4" x="-10%" y="-10%" width="120%" height="120%"><feGaussianBlur stdDeviation="3.4 4.5"/></filter><filter id="b3" x="-20%" y="-20%" width="140%" height="140%"><feGaussianBlur stdDeviation="5"/></filter><radialGradient id="g1" cx="0.5" cy="0.5" r="0.5"><stop offset="0" stop-color="#a9bdd0"/><stop offset="0.10" stop-color="#dfe8f1"/><stop offset="0.22" stop-color="#f8fbfd"/><stop offset="0.44" stop-color="#f4f8fc"/><stop offset="0.53" stop-color="#c6d3df"/><stop offset="0.62" stop-color="#bccbda"/><stop offset="0.71" stop-color="#d6e0ea"/><stop offset="0.86" stop-color="#dce6ef"/><stop offset="0.93" stop-color="#d2dee6"/><stop offset="1" stop-color="#c9d6dc"/></radialGradient></defs>
<g clip-path="url(#cp1)"><g filter="url(#b1)">
<rect x="935" y="672" width="250" height="234" fill="#2f2a29"/>
<ellipse cx="975" cy="700" rx="60" ry="35" fill="#412d29" filter="url(#b3)"/>
<ellipse cx="1165" cy="850" rx="40" ry="70" fill="#4b3c34" filter="url(#b3)"/>
<ellipse cx="1150" cy="700" rx="50" ry="30" fill="#3f3530" filter="url(#b3)"/>
<ellipse cx="960" cy="870" rx="45" ry="40" fill="#1e1d1d" filter="url(#b3)"/>
<polygon points="1172.9,789.0 1174.5,794.4 1173.8,799.8 1172.5,805.1 1170.6,810.3 1171.1,815.9 1169.4,821.2 1166.5,826.0 1164.2,831.0 1160.8,835.5 1157.3,839.8 1155.3,845.0 1152.6,849.8 1147.6,853.1 1145.6,858.7 1140.1,861.4 1135.8,865.1 1130.9,868.1 1128.2,873.7 1122.8,876.2 1117.9,879.4 1112.2,881.3 1106.0,882.0 1101.0,884.9 1095.6,887.1 1089.5,887.5 1084.4,891.3 1078.2,890.5 1072.2,890.6 1066.5,893.0 1060.5,891.0 1054.5,893.4 1048.7,891.5 1042.7,891.1 1037.0,889.5 1031.1,888.6 1025.8,886.2 1020.4,884.0 1013.8,884.3 1009.4,880.2 1003.3,879.1 999.2,874.8 992.8,873.7 988.2,870.1 984.0,866.3 979.6,862.5 975.9,858.2 971.7,854.4 969.7,849.0 965.4,845.2 961.2,841.1 960.3,835.4 955.5,831.5 953.3,826.4 952.8,820.8 951.3,815.6 949.6,810.4 948.8,805.1 945.9,799.9 947.5,794.4 948.6,789.0 948.5,783.7 946.9,778.1 946.7,772.6 949.5,767.5 950.9,762.3 952.4,757.1 953.7,751.7 957.7,747.4 959.0,742.0 962.0,737.3 965.0,732.6 969.6,728.9 973.2,724.7 976.5,720.3 979.2,715.1 984.9,712.7 988.9,708.6 994.2,706.0 999.4,703.5 1004.5,700.8 1008.5,696.2 1014.0,693.9 1020.0,693.0 1025.2,690.3 1031.0,688.8 1036.6,686.8 1042.5,685.7 1048.7,686.7 1054.5,684.4 1060.5,684.4 1066.5,685.7 1072.5,685.2 1078.3,687.1 1084.0,688.4 1089.7,690.1 1096.0,689.7 1100.8,693.6 1106.1,695.9 1112.5,696.2 1117.7,698.9 1122.3,702.5 1127.9,704.7 1131.0,709.9 1135.9,712.9 1140.3,716.5 1144.6,720.1 1147.8,724.7 1151.1,729.1 1155.2,733.1 1160.0,736.8 1163.1,741.5 1165.0,746.7 1166.4,752.0 1167.6,757.3 1171.6,761.9 1171.6,767.5 1173.4,772.7 1171.8,778.4 1172.9,783.6" fill="#a9bbbf"/>
<ellipse cx="1060.5" cy="789" rx="110" ry="100" fill="url(#g1)"/>
<path d="M1050.7,891.1 L1042.9,890.2 L1035.2,888.9 L1027.6,887.0 L1020.2,884.7 L1013.0,881.9 L1006.0,878.6 L999.2,875.0 L992.8,870.9 L986.7,866.4 L981.0,861.5 L975.6,856.2 L970.7,850.7 L966.1,844.8 L962.1,838.7 L958.5,832.3 L955.5,825.7 L952.9,819.0 L950.9,812.1 L949.4,805.0 L948.4,797.9 L948.0,790.8 L948.2,783.6 L948.8,776.5 L950.1,769.4 L951.8,762.5 L954.1,755.6 L956.9,749.0 L960.3,742.5 L964.1,736.2 L968.3,730.2" fill="none" stroke="#4b6462" stroke-width="4.5" opacity="0.75" filter="url(#b1)"/>
<path d="M1116.8,700.2 L1121.2,702.7 L1125.6,705.4 L1129.8,708.2 L1133.8,711.3 L1137.7,714.4 L1141.4,717.8 L1145.0,721.3 L1148.3,725.0 L1151.5,728.8 L1154.5,732.7 L1157.3,736.7 L1159.8,740.9 L1162.2,745.1 L1164.3,749.5 L1166.2,753.9 L1167.9,758.5 L1169.3,763.0 L1170.5,767.7 L1171.5,772.4 L1172.2,777.1 L1172.7,781.8 L1173.0,786.6 L1173.0,791.4 L1172.7,796.2 L1172.2,800.9 L1171.5,805.6 L1170.5,810.3 L1169.3,815.0 L1167.9,819.5 L1166.2,824.1" fill="none" stroke="#7d9496" stroke-width="3" opacity="0.6" filter="url(#b1)"/>
<polygon points="1116.6,786.0 1108.6,790.0 1115.8,795.4 1105.9,797.5 1110.5,803.5 1102.5,804.7 1107.8,812.5 1096.6,810.3 1100.0,818.7 1090.6,815.5 1093.0,825.4 1083.1,818.5 1083.8,829.4 1077.3,825.6 1073.4,828.9 1068.3,825.5 1064.0,832.8 1059.6,826.7 1054.0,831.6 1051.8,822.4 1044.8,828.1 1042.5,822.6 1034.6,826.0 1037.8,814.9 1029.7,817.2 1032.3,809.6 1023.9,810.3 1026.2,804.4 1018.9,803.0 1020.8,797.9 1013.4,795.1 1023.0,789.7 1013.0,786.0 1022.0,782.2 1014.2,777.0 1024.1,775.0 1018.8,769.0 1027.4,768.3 1022.3,760.7 1029.7,760.5 1027.9,753.3 1038.1,757.4 1035.2,746.8 1042.7,749.8 1044.0,742.2 1051.0,747.1 1054.6,743.2 1059.8,747.2 1064.0,742.1 1068.4,745.7 1073.6,742.4 1076.9,747.5 1082.9,744.6 1084.9,750.6 1091.6,748.5 1089.8,757.4 1099.5,753.8 1096.6,761.7 1108.0,759.3 1101.1,768.0 1110.9,768.4 1105.6,774.6 1116.2,776.6 1104.8,782.4" fill="#fbfdfe"/>
<ellipse cx="1071" cy="781" rx="17" ry="15" fill="#a7bacd" filter="url(#b2)"/>
<path d="M1030,828 Q1062,862 1102,832" fill="none" stroke="#a9bdd2" stroke-width="9" filter="url(#b2)"/>
<path d="M1020,800 Q1060,826 1100,800" fill="none" stroke="#fafcfe" stroke-width="8" filter="url(#b2)"/>
<ellipse cx="1060.5" cy="789.5" rx="101" ry="93.5" fill="none" stroke="#6d8f94" stroke-width="1.3" stroke-dasharray="150 40 180 25 120 60" opacity="0.85"/>
<ellipse cx="1060.5" cy="789.5" rx="106" ry="98" fill="none" stroke="#9fb6b8" stroke-width="1.6" opacity="0.6"/>
<ellipse cx="1008.5" cy="712.3" rx="9.0" ry="6.7" fill="#222f2b" transform="rotate(0 1008.5 712.3)"/>
<ellipse cx="1025.1" cy="720.6" rx="4.5" ry="5.6" fill="#2f3f3d" transform="rotate(20 1025.1 720.6)"/>
<ellipse cx="988.3" cy="739.9" rx="10.1" ry="7.8" fill="#2b3f37" transform="rotate(10 988.3 739.9)"/>
<ellipse cx="998.4" cy="719.6" rx="4.5" ry="3.4" fill="#33453f" transform="rotate(0 998.4 719.6)"/>
<ellipse cx="1029.7" cy="740.8" rx="6.7" ry="7.8" fill="#1f2426" transform="rotate(30 1029.7 740.8)"/>
<ellipse cx="1060.0" cy="727.9" rx="10.1" ry="5.6" fill="#2a3a34" transform="rotate(-10 1060.0 727.9)"/>
<ellipse cx="1076.5" cy="704.0" rx="4.5" ry="5.0" fill="#37504f" transform="rotate(0 1076.5 704.0)"/>
<ellipse cx="1069.2" cy="698.5" rx="3.4" ry="2.8" fill="#46595b" transform="rotate(0 1069.2 698.5)"/>
<ellipse cx="1120.7" cy="716.0" rx="5.6" ry="7.8" fill="#1b1f21" transform="rotate(-20 1120.7 716.0)"/>
<ellipse cx="1125.3" cy="724.2" rx="4.5" ry="3.4" fill="#2a3233" transform="rotate(0 1125.3 724.2)"/>
<ellipse cx="1136.3" cy="765.6" rx="6.2" ry="10.7" fill="#46545e" transform="rotate(35 1136.3 765.6)"/>
<ellipse cx="1108.7" cy="777.5" rx="10.7" ry="3.9" fill="#39444c" transform="rotate(-25 1108.7 777.5)"/>
<ellipse cx="1076.5" cy="770.2" rx="3.9" ry="5.0" fill="#4a5a66" transform="rotate(0 1076.5 770.2)"/>
<ellipse cx="1075.6" cy="782.1" rx="6.2" ry="3.9" fill="#3f4d58" transform="rotate(0 1075.6 782.1)"/>
<ellipse cx="1091.2" cy="806.0" rx="5.0" ry="9.5" fill="#3b464f" transform="rotate(-30 1091.2 806.0)"/>
<ellipse cx="1129.9" cy="823.5" rx="6.7" ry="5.4" fill="#2d3538" transform="rotate(10 1129.9 823.5)"/>
<ellipse cx="1142.7" cy="817.1" rx="3.4" ry="5.0" fill="#45525a" transform="rotate(0 1142.7 817.1)"/>
<ellipse cx="1088.5" cy="847.4" rx="7.0" ry="5.0" fill="#1d2224" transform="rotate(0 1088.5 847.4)"/>
<ellipse cx="1045.3" cy="871.3" rx="7.3" ry="14.6" fill="#22292a" transform="rotate(-10 1045.3 871.3)"/>
<ellipse cx="1043.5" cy="858.4" rx="4.5" ry="4.5" fill="#2c3436" transform="rotate(0 1043.5 858.4)"/>
<ellipse cx="1070.1" cy="884.2" rx="7.8" ry="7.8" fill="#262d2e" transform="rotate(0 1070.1 884.2)"/>
<ellipse cx="1082.1" cy="874.0" rx="4.5" ry="4.5" fill="#39474b" transform="rotate(0 1082.1 874.0)"/>
<ellipse cx="1116.1" cy="867.6" rx="5.6" ry="10.1" fill="#2a3d38" transform="rotate(-15 1116.1 867.6)"/>
<ellipse cx="1015.9" cy="859.3" rx="5.0" ry="5.0" fill="#39454a" transform="rotate(0 1015.9 859.3)"/>
<ellipse cx="970.8" cy="775.7" rx="4.3" ry="7.8" fill="#1e2324" transform="rotate(10 970.8 775.7)"/>
<ellipse cx="986.5" cy="771.1" rx="6.7" ry="2.7" fill="#39464a" transform="rotate(15 986.5 771.1)"/>
<ellipse cx="979.1" cy="817.1" rx="3.9" ry="2.8" fill="#4a5960" transform="rotate(0 979.1 817.1)"/>
<ellipse cx="966.2" cy="828.1" rx="5.6" ry="4.5" fill="#6d7f86" transform="rotate(0 966.2 828.1)"/>
<ellipse cx="1019.6" cy="805.1" rx="5.0" ry="3.9" fill="#5c6c78" transform="rotate(0 1019.6 805.1)"/>
<ellipse cx="1002.1" cy="758.2" rx="2.8" ry="3.4" fill="#44525c" transform="rotate(0 1002.1 758.2)"/>
<ellipse cx="1019.6" cy="765.6" rx="2.8" ry="2.8" fill="#4d5c66" transform="rotate(0 1019.6 765.6)"/>
<ellipse cx="1043.5" cy="787.6" rx="3.4" ry="2.8" fill="#4a5964" transform="rotate(0 1043.5 787.6)"/>
<ellipse cx="1102.3" cy="833.6" rx="3.4" ry="3.9" fill="#2e373b" transform="rotate(0 1102.3 833.6)"/>
<ellipse cx="1120.7" cy="833.6" rx="3.4" ry="3.4" fill="#4a5962" transform="rotate(0 1120.7 833.6)"/>
<ellipse cx="1144.6" cy="798.7" rx="2.8" ry="2.8" fill="#39464e" transform="rotate(0 1144.6 798.7)"/>
<ellipse cx="1140.0" cy="745.4" rx="2.2" ry="2.2" fill="#3d4b52" transform="rotate(0 1140.0 745.4)"/>
<ellipse cx="1096.8" cy="769.3" rx="2.8" ry="2.8" fill="#53626e" transform="rotate(0 1096.8 769.3)"/>
<ellipse cx="1037.9" cy="806.9" rx="3.4" ry="2.8" fill="#5b6a76" transform="rotate(0 1037.9 806.9)"/>
<ellipse cx="1057.2" cy="815.2" rx="3.9" ry="3.4" fill="#52616d" transform="rotate(0 1057.2 815.2)"/>
<ellipse cx="1050.8" cy="810.6" rx="2.2" ry="2.2" fill="#5f6e7a" transform="rotate(0 1050.8 810.6)"/>
<ellipse cx="1023.2" cy="845.6" rx="2.8" ry="2.8" fill="#3b474d" transform="rotate(0 1023.2 845.6)"/>
<ellipse cx="1028.8" cy="851.1" rx="2.2" ry="2.2" fill="#4b5860" transform="rotate(0 1028.8 851.1)"/>
<ellipse cx="1004.9" cy="836.4" rx="3.4" ry="3.4" fill="#44525a" transform="rotate(0 1004.9 836.4)"/>
<ellipse cx="996.6" cy="839.1" rx="2.8" ry="2.2" fill="#53616a" transform="rotate(0 996.6 839.1)"/>
<ellipse cx="1074.7" cy="857.5" rx="2.8" ry="2.8" fill="#4b5860" transform="rotate(0 1074.7 857.5)"/>
<ellipse cx="1080.2" cy="823.5" rx="2.8" ry="2.2" fill="#56656f" transform="rotate(0 1080.2 823.5)"/>
<ellipse cx="1074.7" cy="817.1" rx="2.8" ry="2.8" fill="#53626c" transform="rotate(0 1074.7 817.1)"/>
<ellipse cx="1061.8" cy="829.9" rx="2.2" ry="3.4" fill="#5c6b76" transform="rotate(0 1061.8 829.9)"/>
<ellipse cx="1071.0" cy="709.5" rx="2.2" ry="2.2" fill="#4a5b62" transform="rotate(0 1071.0 709.5)"/>
<ellipse cx="1074.7" cy="714.1" rx="2.8" ry="2.2" fill="#4c5c64" transform="rotate(0 1074.7 714.1)"/>
<ellipse cx="1082.1" cy="718.7" rx="2.8" ry="2.2" fill="#55656d" transform="rotate(0 1082.1 718.7)"/>
<ellipse cx="1091.2" cy="727.0" rx="3.9" ry="2.8" fill="#51616a" transform="rotate(0 1091.2 727.0)"/>
<ellipse cx="1054.5" cy="719.6" rx="2.8" ry="2.2" fill="#53636b" transform="rotate(0 1054.5 719.6)"/>
<ellipse cx="1037.9" cy="716.9" rx="2.8" ry="2.2" fill="#4f5f66" transform="rotate(0 1037.9 716.9)"/>
<ellipse cx="1049.0" cy="699.4" rx="3.4" ry="2.2" fill="#55666c" transform="rotate(0 1049.0 699.4)"/>
<ellipse cx="1128.0" cy="727.9" rx="2.8" ry="2.2" fill="#3f4c52" transform="rotate(0 1128.0 727.9)"/>
<ellipse cx="1108.7" cy="736.2" rx="2.2" ry="2.2" fill="#55646d" transform="rotate(0 1108.7 736.2)"/>
<ellipse cx="1134.4" cy="741.7" rx="2.2" ry="2.2" fill="#4b5a62" transform="rotate(0 1134.4 741.7)"/>
<ellipse cx="1151.9" cy="824.4" rx="2.2" ry="2.2" fill="#4d5b62" transform="rotate(0 1151.9 824.4)"/>
<ellipse cx="1155.6" cy="790.4" rx="2.8" ry="3.4" fill="#5b6a70" transform="rotate(0 1155.6 790.4)"/>
<ellipse cx="1013.1" cy="725.1" rx="5.6" ry="3.4" fill="#2a3834" transform="rotate(0 1013.1 725.1)"/>
<ellipse cx="1002.1" cy="708.6" rx="5.0" ry="3.9" fill="#384743" transform="rotate(0 1002.1 708.6)"/>
<ellipse cx="981.0" cy="747.2" rx="5.0" ry="3.4" fill="#33463d" transform="rotate(0 981.0 747.2)"/>
<ellipse cx="1052.6" cy="877.7" rx="4.5" ry="5.0" fill="#2b3334" transform="rotate(0 1052.6 877.7)"/>
<ellipse cx="1112.4" cy="861.2" rx="3.9" ry="3.9" fill="#36474a" transform="rotate(0 1112.4 861.2)"/>
<ellipse cx="1120.7" cy="874.0" rx="3.4" ry="3.4" fill="#3e4d50" transform="rotate(0 1120.7 874.0)"/>
<ellipse cx="1063.7" cy="886.9" rx="4.5" ry="3.4" fill="#39464a" transform="rotate(0 1063.7 886.9)"/>
<circle cx="1001.8" cy="749.2" r="3.0" fill="#8a9ba6"/>
<circle cx="1028.9" cy="862.0" r="1.3" fill="#8a9ba6"/>
<circle cx="1090.3" cy="857.5" r="1.0" fill="#65757f"/>
<circle cx="1025.1" cy="830.8" r="1.9" fill="#51626e"/>
<circle cx="1116.3" cy="733.1" r="1.4" fill="#3f4d57"/>
<circle cx="961.0" cy="786.1" r="1.5" fill="#3f4d57"/>
<circle cx="988.5" cy="801.2" r="3.1" fill="#51626e"/>
<circle cx="1064.0" cy="809.5" r="1.2" fill="#65757f"/>
<circle cx="1047.9" cy="860.2" r="1.1" fill="#3f4d57"/>
<circle cx="1012.6" cy="801.5" r="1.1" fill="#3f4d57"/>
<circle cx="1074.1" cy="878.0" r="1.5" fill="#51626e"/>
<circle cx="989.3" cy="797.4" r="1.5" fill="#65757f"/>
<circle cx="1075.4" cy="715.9" r="3.0" fill="#8a9ba6"/>
<circle cx="1033.9" cy="715.3" r="0.9" fill="#3f4d57"/>
<circle cx="1000.0" cy="837.4" r="1.7" fill="#51626e"/>
<circle cx="1084.7" cy="824.9" r="1.7" fill="#65757f"/>
<circle cx="1096.6" cy="810.2" r="1.3" fill="#8a9ba6"/>
<circle cx="1143.2" cy="760.9" r="1.2" fill="#51626e"/>
<circle cx="1102.2" cy="786.8" r="2.6" fill="#7d8d99"/>
<circle cx="1006.4" cy="840.6" r="0.8" fill="#51626e"/>
<circle cx="1115.9" cy="772.9" r="0.9" fill="#65757f"/>
<circle cx="1119.4" cy="749.6" r="0.9" fill="#7d8d99"/>
<circle cx="1051.9" cy="752.6" r="1.1" fill="#3f4d57"/>
<circle cx="986.4" cy="817.5" r="1.0" fill="#65757f"/>
<circle cx="1020.6" cy="724.6" r="2.1" fill="#65757f"/>
<circle cx="1150.5" cy="807.1" r="1.8" fill="#7d8d99"/>
<circle cx="1132.4" cy="796.9" r="0.7" fill="#8a9ba6"/>
<circle cx="996.5" cy="811.7" r="1.9" fill="#8a9ba6"/>
<circle cx="1120.9" cy="863.2" r="0.8" fill="#7d8d99"/>
<circle cx="1109.5" cy="753.8" r="0.8" fill="#3f4d57"/>
<circle cx="1038.2" cy="785.2" r="2.2" fill="#3f4d57"/>
<circle cx="1097.9" cy="757.8" r="1.3" fill="#8a9ba6"/>
<circle cx="1146.2" cy="749.0" r="0.6" fill="#8a9ba6"/>
<circle cx="1121.1" cy="816.5" r="1.7" fill="#65757f"/>
<circle cx="1102.1" cy="843.1" r="1.3" fill="#8a9ba6"/>
<circle cx="1009.4" cy="744.8" r="1.6" fill="#7d8d99"/>
<circle cx="1083.5" cy="819.1" r="2.4" fill="#51626e"/>
<circle cx="1081.5" cy="773.1" r="0.7" fill="#8a9ba6"/>
<circle cx="1136.5" cy="838.4" r="1.1" fill="#7d8d99"/>
<circle cx="1078.9" cy="795.5" r="1.2" fill="#3f4d57"/>
<circle cx="1078.5" cy="814.4" r="1.8" fill="#8a9ba6"/>
<circle cx="1060.4" cy="830.9" r="0.9" fill="#8a9ba6"/>
<circle cx="1008.8" cy="813.8" r="2.3" fill="#8a9ba6"/>
<circle cx="1119.3" cy="803.0" r="1.3" fill="#65757f"/>
<circle cx="1122.1" cy="796.5" r="1.2" fill="#3f4d57"/>
<circle cx="1094.5" cy="705.2" r="1.5" fill="#65757f"/>
<circle cx="1025.9" cy="720.4" r="1.4" fill="#8a9ba6"/>
<circle cx="1145.1" cy="738.7" r="1.1" fill="#3f4d57"/>
<circle cx="1144.6" cy="756.6" r="2.0" fill="#7d8d99"/>
<circle cx="1084.9" cy="831.9" r="0.6" fill="#3f4d57"/>
<circle cx="1035.7" cy="758.9" r="1.8" fill="#8a9ba6"/>
<circle cx="994.8" cy="788.8" r="0.9" fill="#8a9ba6"/>
<circle cx="975.7" cy="761.0" r="1.6" fill="#7d8d99"/>
<circle cx="1102.8" cy="764.4" r="1.4" fill="#7d8d99"/>
<circle cx="971.0" cy="768.0" r="2.5" fill="#65757f"/>
<circle cx="1158.1" cy="785.7" r="1.8" fill="#51626e"/>
<circle cx="1148.1" cy="781.0" r="1.6" fill="#65757f"/>
<circle cx="1127.0" cy="759.2" r="1.8" fill="#8a9ba6"/>
<circle cx="1048.8" cy="825.1" r="1.5" fill="#8a9ba6"/>
<circle cx="1003.6" cy="725.2" r="1.6" fill="#65757f"/>
<circle cx="1059.3" cy="850.6" r="2.5" fill="#3f4d57"/>
<circle cx="1040.1" cy="791.7" r="1.7" fill="#65757f"/>
<circle cx="1151.0" cy="807.9" r="1.4" fill="#7d8d99"/>
<circle cx="1053.1" cy="709.0" r="1.9" fill="#3f4d57"/>
<circle cx="1072.1" cy="802.3" r="1.6" fill="#8a9ba6"/>
<circle cx="1033.6" cy="871.1" r="1.2" fill="#3f4d57"/>
<circle cx="1073.0" cy="868.7" r="3.1" fill="#3f4d57"/>
<circle cx="1052.7" cy="775.3" r="1.8" fill="#65757f"/>
<circle cx="991.0" cy="789.1" r="1.1" fill="#3f4d57"/>
<circle cx="991.1" cy="743.6" r="1.7" fill="#51626e"/>
<circle cx="1024.3" cy="822.3" r="1.6" fill="#51626e"/>
<circle cx="1101.5" cy="770.7" r="1.7" fill="#51626e"/>
<circle cx="1059.2" cy="742.2" r="2.2" fill="#7d8d99"/>
<circle cx="1124.2" cy="833.9" r="1.4" fill="#8a9ba6"/>
<circle cx="1079.8" cy="852.8" r="1.5" fill="#65757f"/>
<circle cx="1155.6" cy="806.9" r="1.8" fill="#8a9ba6"/>
<circle cx="1030.1" cy="819.4" r="0.8" fill="#51626e"/>
<circle cx="1053.2" cy="874.1" r="0.7" fill="#8a9ba6"/>
<circle cx="1052.1" cy="777.7" r="2.9" fill="#8a9ba6"/>
<circle cx="1040.3" cy="726.1" r="1.3" fill="#8a9ba6"/>
<circle cx="1003.2" cy="842.3" r="1.4" fill="#7d8d99"/>
<circle cx="1101.0" cy="835.5" r="1.2" fill="#3f4d57"/>
<circle cx="1045.3" cy="718.4" r="1.2" fill="#65757f"/>
<circle cx="1141.9" cy="798.4" r="1.2" fill="#65757f"/>
<circle cx="1075.5" cy="700.9" r="3.0" fill="#7d8d99"/>
<circle cx="1019.0" cy="791.4" r="1.6" fill="#7d8d99"/>
<circle cx="1040.7" cy="740.9" r="1.9" fill="#3f4d57"/>
<circle cx="1075.9" cy="822.7" r="1.4" fill="#65757f"/>
<circle cx="1066.7" cy="819.9" r="1.3" fill="#51626e"/>
<circle cx="1035.8" cy="765.3" r="0.8" fill="#65757f"/>
<circle cx="1031.6" cy="782.4" r="2.3" fill="#8a9ba6"/>
<circle cx="1014.4" cy="769.7" r="1.2" fill="#8a9ba6"/>
<circle cx="1031.2" cy="708.7" r="1.1" fill="#7d8d99"/>
<circle cx="1090.0" cy="716.0" r="1.7" fill="#3f4d57"/>
<circle cx="1131.1" cy="803.2" r="1.8" fill="#8a9ba6"/>
<circle cx="1040.7" cy="791.0" r="1.4" fill="#7d8d99"/>
<circle cx="1074.7" cy="710.4" r="2.7" fill="#65757f"/>
<circle cx="1045.3" cy="844.5" r="1.2" fill="#7d8d99"/>
<circle cx="990.2" cy="842.9" r="0.7" fill="#7d8d99"/>
<circle cx="999.0" cy="755.7" r="1.7" fill="#65757f"/>
<circle cx="1061.4" cy="752.7" r="1.0" fill="#51626e"/>
<circle cx="1050.1" cy="865.7" r="1.8" fill="#51626e"/>
<circle cx="993.6" cy="851.1" r="2.6" fill="#51626e"/>
<circle cx="1011.6" cy="742.5" r="1.3" fill="#7d8d99"/>
<circle cx="1057.1" cy="768.9" r="1.4" fill="#8a9ba6"/>
<circle cx="1039.2" cy="824.5" r="1.8" fill="#3f4d57"/>
<circle cx="1019.2" cy="788.3" r="0.9" fill="#65757f"/>
<circle cx="1100.7" cy="748.9" r="1.5" fill="#65757f"/>
<circle cx="1119.7" cy="714.5" r="2.3" fill="#7d8d99"/>
<circle cx="998.8" cy="778.8" r="1.0" fill="#8a9ba6"/>
<circle cx="1095.6" cy="765.3" r="1.1" fill="#65757f"/>
<circle cx="1014.8" cy="867.1" r="1.7" fill="#65757f"/>
<circle cx="1039.7" cy="868.1" r="1.5" fill="#51626e"/>
<circle cx="1097.3" cy="756.9" r="1.9" fill="#7d8d99"/>
<circle cx="974.3" cy="757.7" r="3.0" fill="#3f4d57"/>
<circle cx="1137.1" cy="801.4" r="1.8" fill="#65757f"/>
<circle cx="1082.5" cy="718.3" r="1.6" fill="#51626e"/>
<circle cx="1127.6" cy="725.1" r="1.7" fill="#65757f"/>
<circle cx="974.8" cy="789.3" r="1.3" fill="#65757f"/>
<circle cx="1022.8" cy="738.0" r="1.5" fill="#7d8d99"/>
<circle cx="1069.7" cy="721.8" r="2.1" fill="#51626e"/>
<circle cx="1061.6" cy="750.8" r="0.7" fill="#3f4d57"/>
<circle cx="1138.4" cy="811.5" r="0.7" fill="#8a9ba6"/>
<circle cx="988.8" cy="751.2" r="1.7" fill="#7d8d99"/>
<circle cx="1005.7" cy="819.4" r="1.5" fill="#51626e"/>
<circle cx="1059.1" cy="795.9" r="1.1" fill="#7d8d99"/>
<circle cx="965.6" cy="809.5" r="3.1" fill="#7d8d99"/>
<circle cx="1081.9" cy="760.6" r="1.0" fill="#7d8d99"/>
<circle cx="1072.0" cy="825.2" r="0.7" fill="#65757f"/>
<circle cx="1120.2" cy="790.3" r="0.8" fill="#7d8d99"/>
<circle cx="1035.2" cy="726.5" r="0.7" fill="#51626e"/>
<circle cx="1096.3" cy="852.1" r="1.3" fill="#65757f"/>
<circle cx="1106.7" cy="728.3" r="2.2" fill="#65757f"/>
<circle cx="1141.2" cy="841.0" r="1.0" fill="#7d8d99"/>
<circle cx="1020.3" cy="860.1" r="1.1" fill="#7d8d99"/>
<circle cx="1058.3" cy="708.8" r="0.9" fill="#7d8d99"/>
<circle cx="1073.5" cy="873.3" r="1.6" fill="#65757f"/>
<circle cx="1090.1" cy="788.3" r="1.9" fill="#3f4d57"/>
<circle cx="977.9" cy="808.0" r="3.0" fill="#65757f"/>
<circle cx="1047.5" cy="728.0" r="0.7" fill="#3f4d57"/>
<circle cx="1085.8" cy="774.6" r="1.5" fill="#3f4d57"/>
<circle cx="1142.0" cy="737.8" r="1.7" fill="#51626e"/>
<circle cx="1053.3" cy="783.1" r="1.6" fill="#7d8d99"/>
<circle cx="974.3" cy="778.5" r="0.6" fill="#51626e"/>
<circle cx="1130.7" cy="721.6" r="3.2" fill="#51626e"/>
<circle cx="1005.4" cy="763.6" r="1.4" fill="#3f4d57"/>
<circle cx="1077.4" cy="725.2" r="0.9" fill="#8a9ba6"/>
<circle cx="1033.8" cy="867.3" r="0.9" fill="#51626e"/>
<circle cx="1095.1" cy="773.4" r="1.8" fill="#7d8d99"/>
<circle cx="976.7" cy="759.5" r="1.1" fill="#51626e"/>
<circle cx="1011.1" cy="838.5" r="3.2" fill="#65757f"/>
<circle cx="1113.5" cy="747.9" r="1.2" fill="#8a9ba6"/>
<circle cx="1103.6" cy="723.9" r="1.2" fill="#65757f"/>
<circle cx="1038.0" cy="740.5" r="1.4" fill="#3f4d57"/>
<circle cx="973.8" cy="771.6" r="1.4" fill="#7d8d99"/>
<circle cx="1073.0" cy="827.1" r="1.3" fill="#65757f"/>
<circle cx="1132.6" cy="833.8" r="2.3" fill="#3f4d57"/>
<circle cx="994.2" cy="820.8" r="0.9" fill="#7d8d99"/>
<circle cx="1128.5" cy="827.0" r="1.7" fill="#51626e"/>
<circle cx="1104.7" cy="731.4" r="0.7" fill="#8a9ba6"/>
<circle cx="1065.7" cy="797.7" r="1.6" fill="#8a9ba6"/>
<circle cx="1149.3" cy="773.5" r="0.9" fill="#3f4d57"/>
<circle cx="1028.1" cy="700.1" r="3.1" fill="#3f4d57"/>
<circle cx="1054.6" cy="867.0" r="1.2" fill="#51626e"/>
<circle cx="1036.3" cy="699.3" r="1.1" fill="#7d8d99"/>
<circle cx="1134.3" cy="757.9" r="1.7" fill="#3f4d57"/>
<circle cx="1042.4" cy="867.7" r="0.9" fill="#7d8d99"/>
<circle cx="1059.3" cy="881.1" r="1.3" fill="#8a9ba6"/>
<circle cx="1139.4" cy="816.2" r="3.2" fill="#65757f"/>
<circle cx="1082.0" cy="766.2" r="1.5" fill="#65757f"/>
<circle cx="1097.6" cy="852.0" r="1.0" fill="#8a9ba6"/>
<circle cx="1045.4" cy="713.2" r="0.7" fill="#51626e"/>
<circle cx="1101.5" cy="735.8" r="1.7" fill="#8a9ba6"/>
<circle cx="1101.9" cy="872.8" r="1.1" fill="#7d8d99"/>
<circle cx="1040.1" cy="793.3" r="2.2" fill="#65757f"/>
<circle cx="1118.6" cy="766.5" r="1.4" fill="#65757f"/>
<circle cx="977.9" cy="841.4" r="1.0" fill="#65757f"/>
<circle cx="1003.2" cy="721.6" r="0.7" fill="#7d8d99"/>
<circle cx="1158.0" cy="811.7" r="1.6" fill="#7d8d99"/>
<circle cx="973.6" cy="763.6" r="1.2" fill="#51626e"/>
<circle cx="1097.6" cy="705.8" r="2.1" fill="#8a9ba6"/>
<circle cx="1025.7" cy="772.5" r="1.3" fill="#51626e"/>
<circle cx="1046.8" cy="816.1" r="1.1" fill="#3f4d57"/>
<circle cx="1096.5" cy="714.0" r="1.7" fill="#51626e"/>
<circle cx="990.8" cy="828.8" r="0.7" fill="#8a9ba6"/>
<circle cx="1053.8" cy="853.3" r="1.0" fill="#8a9ba6"/>
<circle cx="979.5" cy="825.9" r="3.2" fill="#3f4d57"/>
<circle cx="1016.8" cy="826.6" r="1.8" fill="#65757f"/>
<circle cx="1024.3" cy="868.5" r="1.0" fill="#7d8d99"/>
<circle cx="1053.9" cy="775.1" r="1.4" fill="#7d8d99"/>
<circle cx="1092.2" cy="802.7" r="1.2" fill="#3f4d57"/>
<circle cx="1020.8" cy="867.2" r="1.2" fill="#3f4d57"/>
<circle cx="1067.9" cy="836.4" r="3.0" fill="#65757f"/>
<circle cx="1099.7" cy="861.9" r="0.7" fill="#7d8d99"/>
<circle cx="1009.1" cy="739.5" r="1.9" fill="#8a9ba6"/>
<circle cx="1033.5" cy="807.0" r="1.3" fill="#65757f"/>
<circle cx="1129.2" cy="827.3" r="1.8" fill="#3f4d57"/>
<circle cx="1093.6" cy="867.1" r="0.9" fill="#65757f"/>
<circle cx="1142.3" cy="797.8" r="2.3" fill="#7d8d99"/>
<circle cx="996.2" cy="746.8" r="1.6" fill="#8a9ba6"/>
<circle cx="1110.3" cy="827.2" r="1.7" fill="#8a9ba6"/>
<circle cx="1143.2" cy="744.6" r="1.6" fill="#51626e"/>
<circle cx="1024.8" cy="709.7" r="0.9" fill="#3f4d57"/>
<circle cx="1080.0" cy="730.6" r="0.7" fill="#3f4d57"/>
<circle cx="1058.1" cy="740.0" r="2.0" fill="#65757f"/>
<circle cx="1130.2" cy="802.4" r="1.8" fill="#3f4d57"/>
<circle cx="1026.4" cy="861.4" r="1.5" fill="#51626e"/>
<circle cx="1014.0" cy="765.3" r="1.4" fill="#51626e"/>
<circle cx="1056.2" cy="841.8" r="0.8" fill="#51626e"/>
<circle cx="1113.9" cy="842.5" r="0.8" fill="#51626e"/>
<circle cx="1094.9" cy="729.7" r="2.2" fill="#8a9ba6"/>
<circle cx="970.5" cy="777.1" r="1.9" fill="#7d8d99"/>
<circle cx="986.0" cy="819.9" r="0.7" fill="#8a9ba6"/>
<circle cx="1020.2" cy="842.1" r="1.6" fill="#7d8d99"/>
<circle cx="1151.5" cy="828.7" r="1.6" fill="#7d8d99"/>
<circle cx="1063.8" cy="865.6" r="0.9" fill="#65757f"/>
<circle cx="1086.0" cy="713.5" r="2.8" fill="#3f4d57"/>
<circle cx="1099.8" cy="776.8" r="1.3" fill="#3f4d57"/>
<circle cx="1158.9" cy="777.4" r="0.7" fill="#65757f"/>
<circle cx="1059.1" cy="807.8" r="1.4" fill="#8a9ba6"/>
<circle cx="1076.7" cy="878.0" r="1.4" fill="#65757f"/>
<circle cx="1078.8" cy="843.3" r="1.2" fill="#51626e"/>
<circle cx="1084.9" cy="763.6" r="2.5" fill="#3f4d57"/>
<circle cx="1034.8" cy="745.3" r="1.1" fill="#7d8d99"/>
<circle cx="1085.1" cy="871.0" r="0.8" fill="#7d8d99"/>
<circle cx="1073.4" cy="776.8" r="1.6" fill="#65757f"/>
<circle cx="980.2" cy="775.6" r="1.4" fill="#3f4d57"/>
<circle cx="1075.1" cy="860.4" r="1.0" fill="#8a9ba6"/>
<circle cx="1140.0" cy="793.1" r="2.7" fill="#3f4d57"/>
<circle cx="1106.9" cy="853.2" r="1.2" fill="#8a9ba6"/>
<circle cx="1117.2" cy="865.2" r="1.2" fill="#65757f"/>
<circle cx="1117.7" cy="859.3" r="1.3" fill="#51626e"/>
<circle cx="1041.3" cy="816.2" r="1.3" fill="#8a9ba6"/>
<circle cx="1013.3" cy="810.6" r="1.8" fill="#7d8d99"/>
<circle cx="1102.5" cy="760.3" r="2.4" fill="#65757f"/>
<circle cx="1114.5" cy="811.2" r="1.5" fill="#7d8d99"/>
<circle cx="965.5" cy="821.5" r="1.7" fill="#7d8d99"/>
<circle cx="1036.4" cy="727.5" r="1.7" fill="#8a9ba6"/>
<circle cx="1091.0" cy="856.4" r="0.9" fill="#8a9ba6"/>
<circle cx="980.8" cy="793.5" r="1.1" fill="#51626e"/>
<circle cx="1036.5" cy="818.0" r="2.6" fill="#8a9ba6"/>
<circle cx="1108.6" cy="735.1" r="1.9" fill="#3f4d57"/>
<circle cx="1017.5" cy="824.0" r="0.9" fill="#7d8d99"/>
<circle cx="977.0" cy="752.3" r="1.3" fill="#7d8d99"/>
<circle cx="1001.4" cy="844.1" r="1.6" fill="#8a9ba6"/>
<circle cx="1032.7" cy="759.4" r="1.6" fill="#3f4d57"/>
<circle cx="1049.2" cy="819.1" r="3.0" fill="#65757f"/>
<circle cx="1026.2" cy="715.6" r="0.6" fill="#65757f"/>
<circle cx="1027.2" cy="704.0" r="0.7" fill="#8a9ba6"/>
<circle cx="1043.4" cy="755.0" r="0.9" fill="#3f4d57"/>
<circle cx="1089.0" cy="791.8" r="1.8" fill="#3f4d57"/>
<circle cx="1044.5" cy="798.7" r="1.2" fill="#3f4d57"/>
<circle cx="1097.5" cy="764.7" r="3.0" fill="#51626e"/>
<circle cx="1137.4" cy="785.5" r="1.4" fill="#7d8d99"/>
<circle cx="1091.8" cy="819.2" r="1.6" fill="#8a9ba6"/>
<circle cx="1096.0" cy="811.4" r="1.1" fill="#3f4d57"/>
<circle cx="1132.2" cy="818.7" r="1.6" fill="#8a9ba6"/>
<circle cx="1006.5" cy="804.4" r="1.4" fill="#3f4d57"/>
<circle cx="1064.5" cy="809.9" r="2.4" fill="#3f4d57"/>
<circle cx="1015.4" cy="740.7" r="0.7" fill="#8a9ba6"/>
<circle cx="1009.8" cy="853.2" r="1.3" fill="#51626e"/>
<circle cx="1044.7" cy="778.4" r="0.9" fill="#7d8d99"/>
<circle cx="1067.4" cy="701.3" r="1.7" fill="#7d8d99"/>
<circle cx="1162.1" cy="794.2" r="1.0" fill="#3f4d57"/>
<circle cx="1156.7" cy="798.2" r="2.9" fill="#65757f"/>
<circle cx="1083.0" cy="737.6" r="1.2" fill="#51626e"/>
<circle cx="1076.0" cy="807.1" r="0.8" fill="#65757f"/>
<circle cx="1127.7" cy="854.3" r="1.4" fill="#3f4d57"/>
<circle cx="1008.5" cy="786.3" r="1.3" fill="#65757f"/>
<circle cx="1122.9" cy="862.0" r="1.1" fill="#3f4d57"/>
<circle cx="1140.1" cy="829.3" r="2.8" fill="#51626e"/>
<circle cx="1071.3" cy="833.0" r="1.3" fill="#7d8d99"/>
<circle cx="1083.7" cy="834.3" r="1.7" fill="#65757f"/>
<circle cx="978.3" cy="821.6" r="1.2" fill="#3f4d57"/>
<circle cx="1154.9" cy="801.7" r="1.6" fill="#7d8d99"/>
<circle cx="1087.8" cy="858.4" r="1.3" fill="#65757f"/>
<circle cx="1124.9" cy="729.7" r="3.3" fill="#65757f"/>
<circle cx="1138.9" cy="832.2" r="1.2" fill="#3f4d57"/>
<circle cx="1115.1" cy="838.7" r="1.7" fill="#7d8d99"/>
<circle cx="1022.0" cy="755.5" r="0.9" fill="#51626e"/>
<circle cx="1066.1" cy="791.3" r="1.9" fill="#7d8d99"/>
<circle cx="1152.0" cy="757.7" r="1.6" fill="#8a9ba6"/>
<circle cx="1090.1" cy="726.3" r="2.8" fill="#51626e"/>
<circle cx="1090.1" cy="745.3" r="1.8" fill="#3f4d57"/>
<circle cx="1147.6" cy="790.9" r="1.4" fill="#3f4d57"/>
<circle cx="1148.4" cy="742.9" r="0.8" fill="#51626e"/>
<circle cx="1158.7" cy="785.1" r="1.3" fill="#3f4d57"/>
<circle cx="1076.1" cy="749.9" r="1.6" fill="#7d8d99"/>
<circle cx="1088.1" cy="874.6" r="3.1" fill="#65757f"/>
<circle cx="1093.5" cy="830.4" r="1.6" fill="#65757f"/>
<circle cx="973.4" cy="754.6" r="1.2" fill="#51626e"/>
<circle cx="1060.7" cy="756.1" r="0.9" fill="#8a9ba6"/>
<circle cx="1092.1" cy="733.3" r="1.1" fill="#7d8d99"/>
<circle cx="965.8" cy="813.7" r="1.4" fill="#8a9ba6"/>
<circle cx="1024.9" cy="731.9" r="2.2" fill="#51626e"/>
<circle cx="1005.0" cy="760.9" r="0.6" fill="#65757f"/>
<circle cx="1151.5" cy="793.7" r="0.8" fill="#7d8d99"/>
<circle cx="1041.0" cy="859.6" r="1.6" fill="#65757f"/>
<circle cx="1032.7" cy="708.7" r="1.3" fill="#7d8d99"/>
<circle cx="1017.2" cy="719.8" r="0.6" fill="#51626e"/>
<circle cx="992.7" cy="742.2" r="3.1" fill="#3f4d57"/>
<circle cx="1028.7" cy="795.1" r="1.3" fill="#51626e"/>
<circle cx="1118.1" cy="781.2" r="1.8" fill="#3f4d57"/>
<circle cx="1007.1" cy="799.2" r="0.9" fill="#51626e"/>
<circle cx="1061.3" cy="798.5" r="1.7" fill="#51626e"/>
<circle cx="1145.2" cy="805.4" r="1.2" fill="#8a9ba6"/>
<circle cx="1153.0" cy="759.5" r="2.5" fill="#3f4d57"/>
<circle cx="1005.0" cy="823.8" r="1.8" fill="#65757f"/>
<circle cx="1119.6" cy="862.6" r="0.7" fill="#65757f"/>
<circle cx="983.5" cy="774.1" r="0.7" fill="#65757f"/>
<circle cx="1010.0" cy="789.6" r="1.5" fill="#51626e"/>
<circle cx="1045.1" cy="729.7" r="1.6" fill="#3f4d57"/>
<circle cx="1154.5" cy="799.6" r="2.4" fill="#3f4d57"/>
<circle cx="1087.5" cy="709.2" r="0.8" fill="#51626e"/>
<circle cx="983.1" cy="810.3" r="0.9" fill="#8a9ba6"/>
<circle cx="1117.9" cy="862.4" r="0.7" fill="#3f4d57"/>
<circle cx="1127.5" cy="776.0" r="0.7" fill="#3f4d57"/>
<circle cx="1125.9" cy="807.5" r="1.0" fill="#65757f"/>
<circle cx="1067.0" cy="757.6" r="2.8" fill="#65757f"/>
<circle cx="1135.9" cy="747.9" r="1.7" fill="#7d8d99"/>
<circle cx="1020.4" cy="731.6" r="0.9" fill="#51626e"/>
<circle cx="1152.0" cy="792.2" r="1.0" fill="#8a9ba6"/>
<circle cx="985.0" cy="800.4" r="1.5" fill="#8a9ba6"/>
<circle cx="1136.7" cy="771.4" r="1.8" fill="#7d8d99"/>
<circle cx="1052.1" cy="853.2" r="2.8" fill="#8a9ba6"/>
<circle cx="970.5" cy="760.4" r="1.8" fill="#65757f"/>
<circle cx="1077.7" cy="841.0" r="0.7" fill="#7d8d99"/>
<circle cx="1037.8" cy="845.0" r="1.3" fill="#8a9ba6"/>
<circle cx="1132.1" cy="850.4" r="1.8" fill="#65757f"/>
<circle cx="1013.2" cy="739.2" r="1.1" fill="#8a9ba6"/>
<circle cx="1090.3" cy="792.5" r="3.1" fill="#51626e"/>
<circle cx="1056.2" cy="730.5" r="0.7" fill="#3f4d57"/>
<circle cx="1023.3" cy="840.1" r="1.3" fill="#3f4d57"/>
<circle cx="1071.5" cy="809.3" r="0.8" fill="#8a9ba6"/>
<circle cx="1028.4" cy="871.5" r="1.7" fill="#65757f"/>
<circle cx="1027.2" cy="834.7" r="0.7" fill="#51626e"/>
<circle cx="1071.7" cy="769.8" r="2.2" fill="#8a9ba6"/>
<circle cx="1087.6" cy="788.3" r="0.9" fill="#7d8d99"/>
<circle cx="1030.4" cy="706.5" r="0.7" fill="#3f4d57"/>
<circle cx="1025.7" cy="705.8" r="0.8" fill="#51626e"/>
<ellipse cx="1170.3" cy="750.9" rx="8" ry="13" fill="#141414"/>
<ellipse cx="1165.7" cy="742.6" rx="5" ry="5" fill="#181818"/>
<ellipse cx="942.4" cy="772.9" rx="4" ry="10" fill="#121212"/>
</g>
<path d="M969.0,802.0 C976.9,801.8 994.7,801.5 1008.5,800.9 C1022.3,800.2 1029.1,799.7 1037.9,798.7 C1046.8,797.7 1048.6,797.6 1052.6,795.9 C1056.7,794.3 1057.1,791.5 1058.2,790.4" fill="none" stroke="#1c2328" stroke-width="1.5" stroke-linecap="round"/>
<path d="M1058.2,790.4 C1060.6,789.9 1061.0,788.6 1067.4,788.6 C1073.7,788.6 1073.2,788.2 1082.1,790.4 C1090.9,792.6 1091.6,793.2 1100.4,796.8 C1109.3,800.5 1107.3,800.9 1115.1,804.2 C1123.0,807.5 1121.5,807.9 1129.9,809.3 C1138.2,810.8 1137.6,808.9 1146.4,809.7 C1155.2,810.5 1156.3,811.2 1162.9,812.5 C1169.6,813.7 1169.0,813.9 1171.2,814.5" fill="none" stroke="#10151a" stroke-width="2.7" stroke-linecap="round"/>
</g>
<g clip-path="url(#cp2)"><g filter="url(#b1)">
<rect x="936" y="930" width="250" height="222" fill="#eef1f4"/>
<polygon points="940,934 1000,934 992,975 958,990 940,984" fill="#cfc6a6"/>
<polygon points="946,938 996,952 990,966 950,950" fill="#e9e2c6"/>
<rect x="940" y="934" width="8" height="30" fill="#6f7468"/>
<rect x="958" y="962" width="16" height="14" fill="#a9b08f"/>
<rect x="940" y="985" width="12" height="120" fill="#a9b0b6" filter="url(#b2)"/>
<rect x="940" y="1100" width="40" height="30" fill="#dfe4e8"/>
<rect x="1164" y="981" width="16" height="8" rx="2" fill="#2a2c33"/>
<rect x="1176" y="978" width="4" height="16" fill="#2a2c33"/>
<rect x="1170" y="1000" width="10" height="8" fill="#2d2f36"/><rect x="1171" y="1012" width="9" height="8" fill="#2d2f36"/><rect x="1172" y="1024" width="8" height="9" fill="#33353c"/>
<polygon points="1140,1062 1180,1060 1180,1118 1140,1120" fill="#23252d"/>
<polygon points="978,1108 940.7,1142 940.7,1147 1148,1147 1138,1118 1090,1125" fill="#2c3439"/>
<polygon points="985,1112 948,1140 1000,1140 1010,1122" fill="#434f55" opacity="0.8"/>
<rect x="940" y="1142.5" width="196" height="4.5" fill="#1f2428"/>
<ellipse cx="1059.2" cy="1040" rx="116" ry="106" fill="#352a2c"/>
<g clip-path="url(#cpd2)"><g filter="url(#b4)">
<rect x="945.8" y="946.6" width="48.6" height="84.6" fill="#412c2a"/>
<rect x="994.4" y="939.4" width="12.6" height="93.6" fill="#322a2b"/>
<rect x="1006.1" y="953.8" width="13.5" height="39.6" fill="#5d423c"/>
<rect x="1031.3" y="959.2" width="16.2" height="21.6" fill="#936560"/>
<rect x="1050.2" y="935.8" width="28.8" height="64.8" fill="#3f3346"/>
<rect x="1079.0" y="935.8" width="36.0" height="57.6" fill="#283832"/>
<rect x="1115.0" y="952.0" width="59.4" height="81.0" fill="#43353f"/>
<rect x="1021.4" y="935.8" width="14.4" height="21.6" fill="#2d2c2f"/>
<rect x="945.8" y="1019.5" width="126.0" height="11.7" fill="#693d2b"/>
<rect x="1007.0" y="997.0" width="21.6" height="21.6" fill="#6a4a40"/>
<rect x="1028.6" y="984.4" width="32.4" height="30.6" fill="#5a4550"/>
<rect x="1089.8" y="993.4" width="43.2" height="39.6" fill="#3a3040"/>
<rect x="956.6" y="1043.8" width="32.4" height="61.2" fill="#3e3031"/>
<rect x="989.0" y="1043.8" width="21.6" height="79.2" fill="#4a3737"/>
<rect x="1016.0" y="1043.8" width="12.6" height="93.6" fill="#3a4a3f"/>
<rect x="1035.8" y="1043.8" width="25.2" height="93.6" fill="#4b383a"/>
<rect x="1061.0" y="1043.8" width="12.6" height="97.2" fill="#3f3f49"/>
<rect x="1073.6" y="1043.8" width="23.4" height="97.2" fill="#352f36"/>
<rect x="1097.0" y="1043.8" width="61.2" height="30.6" fill="#3c3238"/>
<rect x="1097.0" y="1075.3" width="54.0" height="10.8" fill="#55494c"/>
<rect x="1097.0" y="1087.0" width="45.0" height="45.0" fill="#483c40"/>
<rect x="1003.4" y="1123.0" width="57.6" height="23.4" fill="#47393c"/>
<rect x="967.4" y="1083.4" width="21.6" height="30.6" fill="#4e3d3c"/>
<rect x="1142.0" y="1043.8" width="32.4" height="25.2" fill="#2f2a31"/>
<rect x="1088.2" y="1064.6" width="5.2" height="86.1" fill="#203828" opacity="0.07"/>
<rect x="1052.2" y="1040.9" width="6.2" height="83.2" fill="#000000" opacity="0.11"/>
<rect x="1144.3" y="952.3" width="3.4" height="38.7" fill="#000000" opacity="0.11"/>
<rect x="987.4" y="998.9" width="5.8" height="73.7" fill="#000000" opacity="0.08"/>
<rect x="1086.9" y="936.1" width="2.1" height="81.2" fill="#000000" opacity="0.15"/>
<rect x="1165.3" y="962.8" width="2.3" height="43.1" fill="#000000" opacity="0.12"/>
<rect x="1100.7" y="1088.2" width="2.5" height="68.8" fill="#d8a090" opacity="0.10"/>
<rect x="1028.4" y="959.4" width="2.3" height="26.1" fill="#ffffff" opacity="0.15"/>
<rect x="1079.8" y="1050.4" width="4.4" height="26.1" fill="#ffffff" opacity="0.15"/>
<rect x="1055.7" y="1013.8" width="3.0" height="69.8" fill="#000000" opacity="0.10"/>
<rect x="1160.4" y="993.7" width="6.2" height="49.2" fill="#203828" opacity="0.15"/>
<rect x="1029.5" y="937.3" width="4.4" height="24.8" fill="#000000" opacity="0.13"/>
<rect x="1164.0" y="975.7" width="2.0" height="77.6" fill="#d8a090" opacity="0.10"/>
<rect x="1026.9" y="1061.4" width="4.1" height="29.0" fill="#ffffff" opacity="0.16"/>
<rect x="954.2" y="950.6" width="6.2" height="44.9" fill="#203828" opacity="0.11"/>
<rect x="979.7" y="1049.6" width="2.8" height="27.9" fill="#ffffff" opacity="0.10"/>
<rect x="1128.4" y="1052.6" width="4.6" height="42.8" fill="#d8a090" opacity="0.09"/>
<rect x="956.9" y="1022.2" width="6.4" height="49.4" fill="#000000" opacity="0.14"/>
<rect x="1024.4" y="1041.2" width="2.7" height="31.6" fill="#000000" opacity="0.15"/>
<rect x="1022.2" y="1094.8" width="2.5" height="60.2" fill="#000000" opacity="0.13"/>
<rect x="1125.9" y="1006.2" width="2.0" height="31.8" fill="#d8a090" opacity="0.10"/>
<rect x="1049.4" y="1073.9" width="6.5" height="88.4" fill="#d8a090" opacity="0.17"/>
<rect x="1103.3" y="980.2" width="3.0" height="53.7" fill="#000000" opacity="0.08"/>
<rect x="1133.7" y="964.9" width="4.1" height="85.7" fill="#ffffff" opacity="0.09"/>
<rect x="1058.2" y="1024.6" width="4.0" height="56.0" fill="#000000" opacity="0.15"/>
<rect x="1122.9" y="1043.4" width="4.9" height="73.6" fill="#ffffff" opacity="0.13"/>
<rect x="1098.6" y="978.7" width="5.6" height="88.7" fill="#ffffff" opacity="0.17"/>
<rect x="1023.5" y="1073.8" width="2.3" height="54.0" fill="#ffffff" opacity="0.10"/>
<rect x="1008.4" y="1016.8" width="2.9" height="67.7" fill="#ffffff" opacity="0.10"/>
<rect x="1093.0" y="1070.0" width="5.2" height="45.5" fill="#000000" opacity="0.16"/>
<rect x="1103.1" y="1090.7" width="6.4" height="57.0" fill="#203828" opacity="0.17"/>
<rect x="991.2" y="1074.1" width="3.3" height="40.9" fill="#000000" opacity="0.14"/>
<rect x="1112.7" y="1062.2" width="2.3" height="61.3" fill="#d8a090" opacity="0.10"/>
<rect x="1072.3" y="979.7" width="5.8" height="89.7" fill="#000000" opacity="0.09"/>
<rect x="1046.6" y="971.3" width="4.7" height="68.5" fill="#000000" opacity="0.17"/>
<rect x="1169.8" y="1080.3" width="2.3" height="29.2" fill="#000000" opacity="0.12"/>
<rect x="1071.1" y="992.7" width="3.5" height="66.9" fill="#000000" opacity="0.13"/>
<rect x="1000.2" y="935.9" width="6.0" height="49.3" fill="#ffffff" opacity="0.16"/>
<rect x="1143.8" y="1024.4" width="4.9" height="87.6" fill="#203828" opacity="0.13"/>
<rect x="967.5" y="990.8" width="4.2" height="61.3" fill="#ffffff" opacity="0.15"/>
<rect x="1041.6" y="1039.8" width="5.5" height="46.9" fill="#000000" opacity="0.09"/>
<rect x="1033.3" y="968.1" width="3.8" height="30.7" fill="#000000" opacity="0.11"/>
<rect x="1150.0" y="953.3" width="1.4" height="60.3" fill="#203828" opacity="0.12"/>
<rect x="1020.2" y="1027.2" width="5.9" height="51.0" fill="#000000" opacity="0.12"/>
<rect x="1055.4" y="998.0" width="5.0" height="80.1" fill="#000000" opacity="0.13"/>
<rect x="1005.2" y="1016.2" width="6.4" height="50.0" fill="#ffffff" opacity="0.16"/>
</g></g>
<ellipse cx="1059.2" cy="1040" rx="115" ry="105" fill="none" stroke="#2a2326" stroke-width="3" opacity="0.7"/>
<polygon points="942.2,1032.5 1179.8,1035.2 1179.8,1044.6 942.2,1042.3" fill="#f1f2f2"/>
<line x1="948.2" y1="1038.3" x2="1179.8" y2="1040.8" stroke="#333d4b" stroke-width="2.6" stroke-dasharray="1.5 2.3" opacity="0.9"/>
<line x1="1142.0" y1="1047.0" x2="1179.8" y2="1047.0" stroke="#1d1b20" stroke-width="2.5"/>
</g>
<path d="M1079,1066 q3,-6 6,-3 t6,-3 t5,-2 t4,-3 M1081,1069 q5,-2 8,-4" fill="none" stroke="#e8eef2" stroke-width="1.2" stroke-linecap="round" opacity="0.85"/>
</g>
</svg>
</body></html>
